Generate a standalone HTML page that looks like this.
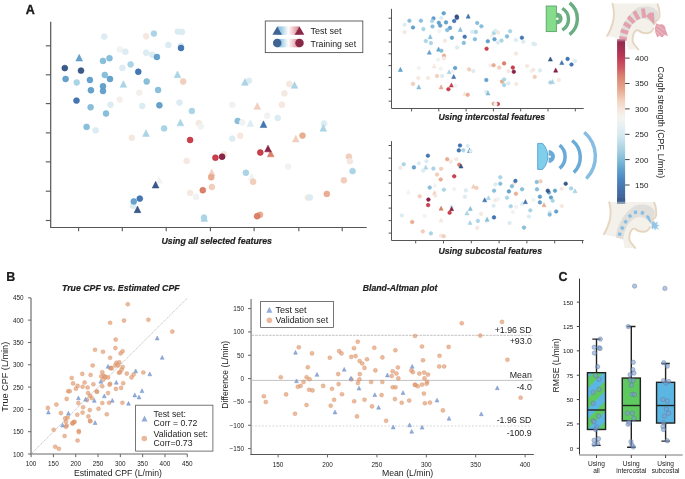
<!DOCTYPE html><html><head><meta charset="utf-8"><style>html,body{margin:0;padding:0;background:#fff;overflow:hidden;width:685px;height:479px;}svg{display:block;will-change:transform;}text{font-family:"Liberation Sans",sans-serif;}</style></head><body>
<svg width="685" height="479" viewBox="0 0 685 479">
<defs>
<linearGradient id="cbar" x1="0" y1="0" x2="0" y2="1">
<stop offset="0.0000" stop-color="#8a2a50"/>
<stop offset="0.0669" stop-color="#a8304f"/>
<stop offset="0.1155" stop-color="#c03a55"/>
<stop offset="0.1763" stop-color="#cf5a62"/>
<stop offset="0.2249" stop-color="#d98070"/>
<stop offset="0.3100" stop-color="#e8aa90"/>
<stop offset="0.3708" stop-color="#f2d0bc"/>
<stop offset="0.4316" stop-color="#f5e8e0"/>
<stop offset="0.4802" stop-color="#f5f3f0"/>
<stop offset="0.5228" stop-color="#e8f0f3"/>
<stop offset="0.5897" stop-color="#d4e8f0"/>
<stop offset="0.6748" stop-color="#a8d0e2"/>
<stop offset="0.7356" stop-color="#80bcd8"/>
<stop offset="0.7964" stop-color="#5e9fcc"/>
<stop offset="0.8571" stop-color="#4a85bf"/>
<stop offset="0.9179" stop-color="#4470a8"/>
<stop offset="1.0000" stop-color="#3d5d8e"/>
</linearGradient>
<linearGradient id="lgb" x1="0" y1="0" x2="1" y2="0"><stop offset="0" stop-color="#7fb9d8"/><stop offset="0.2" stop-color="#a3d0e5"/><stop offset="0.5" stop-color="#ffffff"/><stop offset="0.8" stop-color="#eab0b6"/><stop offset="1" stop-color="#d3808c"/></linearGradient>
<pattern id="stripe" patternUnits="userSpaceOnUse" width="14.42" height="14.42" patternTransform="rotate(45)"><rect width="14.42" height="14.42" fill="#5bb6e3"/><rect x="5.1" width="7.21" height="14.42" fill="#5dc95f"/></pattern>
<linearGradient id="cbtop" x1="0" y1="0" x2="0" y2="1"><stop offset="0" stop-color="#e3a8b6" stop-opacity="0.85"/><stop offset="1" stop-color="#e3a8b6" stop-opacity="0"/></linearGradient>
</defs>
<text x="25.8" y="13.7" font-size="12.5" text-anchor="start" font-weight="bold" font-style="normal" fill="#1a1a1a" stroke="#1a1a1a" stroke-width="0.35">A</text>
<text x="6.3" y="280.8" font-size="12.5" text-anchor="start" font-weight="bold" font-style="normal" fill="#1a1a1a" stroke="#1a1a1a" stroke-width="0.2">B</text>
<text x="558.6" y="281.1" font-size="12.5" text-anchor="start" font-weight="bold" font-style="normal" fill="#1a1a1a" stroke="#1a1a1a" stroke-width="0.3">C</text>
<g stroke="#555" stroke-width="1.1" fill="none">
<path d="M50.7 21.7V227.5H366.7" stroke-width="1.2"/>
<path d="M45.8 45.8H50.7"/>
<path d="M45.8 74.8H50.7"/>
<path d="M45.8 103.6H50.7"/>
<path d="M45.8 132.9H50.7"/>
<path d="M45.8 161.9H50.7"/>
<path d="M45.8 191.2H50.7"/>
<path d="M45.8 220.5H50.7"/>
<path d="M78.6 227.5V231.3"/>
<path d="M122.3 227.5V231.3"/>
<path d="M166.2 227.5V231.3"/>
<path d="M210.4 227.5V231.3"/>
<path d="M254.1 227.5V231.3"/>
<path d="M298.8 227.5V231.3"/>
<path d="M342.2 227.5V231.3"/>
</g>
<circle cx="104.3" cy="36.6" r="2.95" fill="#dbecf2" stroke="#d6e9f0" stroke-width="0.55"/>
<circle cx="146.2" cy="36.3" r="2.95" fill="#f5e8e0" stroke="#f4e5dc" stroke-width="0.55"/>
<circle cx="153.9" cy="33.6" r="2.95" fill="#abd5e6" stroke="#9fcfe2" stroke-width="0.55"/>
<circle cx="177.7" cy="31.6" r="2.95" fill="#dbecf2" stroke="#d6e9f0" stroke-width="0.55"/>
<circle cx="182" cy="31.9" r="2.95" fill="#dbecf2" stroke="#d6e9f0" stroke-width="0.55"/>
<circle cx="168.3" cy="45" r="2.95" fill="#dbecf2" stroke="#d6e9f0" stroke-width="0.55"/>
<circle cx="181" cy="46" r="2.95" fill="#dbecf2" stroke="#d6e9f0" stroke-width="0.55"/>
<circle cx="181" cy="48" r="2.95" fill="#4677b3" stroke="#2a63a8" stroke-width="0.55"/>
<circle cx="119.9" cy="49.5" r="2.95" fill="#f1f3f3" stroke="#eff1f1" stroke-width="0.55"/>
<circle cx="125.4" cy="51.7" r="2.95" fill="#dbecf2" stroke="#d6e9f0" stroke-width="0.55"/>
<circle cx="146.2" cy="52.7" r="2.95" fill="#dbecf2" stroke="#d6e9f0" stroke-width="0.55"/>
<circle cx="152.2" cy="54.7" r="2.95" fill="#dbecf2" stroke="#d6e9f0" stroke-width="0.55"/>
<circle cx="156.9" cy="57" r="2.95" fill="#66a2cc" stroke="#4f94c5" stroke-width="0.55"/>
<path d="M79.2 54.35L82.55 61.05L75.85 61.05Z" fill="#66a2cc" stroke="#4f94c5" stroke-width="0.45"/>
<circle cx="103" cy="60.9" r="2.95" fill="#89bfda" stroke="#78b6d5" stroke-width="0.55"/>
<circle cx="109.5" cy="58.2" r="2.95" fill="#89bfda" stroke="#78b6d5" stroke-width="0.55"/>
<circle cx="130.6" cy="64.4" r="2.95" fill="#abd5e6" stroke="#9fcfe2" stroke-width="0.55"/>
<circle cx="122.4" cy="67.9" r="2.95" fill="#dbecf2" stroke="#d6e9f0" stroke-width="0.55"/>
<circle cx="64.8" cy="68.1" r="2.95" fill="#3a5a88" stroke="#1d4176" stroke-width="0.55"/>
<circle cx="81" cy="70.6" r="2.95" fill="#3a5a88" stroke="#1d4176" stroke-width="0.55"/>
<circle cx="138.3" cy="71.8" r="2.95" fill="#4677b3" stroke="#2a63a8" stroke-width="0.55"/>
<path d="M177.5 70.95L180.85 77.65L174.15 77.65Z" fill="#abd5e6" stroke="#9fcfe2" stroke-width="0.45"/>
<circle cx="183.2" cy="81.5" r="2.95" fill="#f1cfbc" stroke="#efc8b2" stroke-width="0.55"/>
<circle cx="65.6" cy="79" r="2.95" fill="#66a2cc" stroke="#4f94c5" stroke-width="0.55"/>
<circle cx="76.7" cy="82.5" r="2.95" fill="#abd5e6" stroke="#9fcfe2" stroke-width="0.55"/>
<circle cx="89.9" cy="80" r="2.95" fill="#66a2cc" stroke="#4f94c5" stroke-width="0.55"/>
<circle cx="104.8" cy="75" r="2.95" fill="#89bfda" stroke="#78b6d5" stroke-width="0.55"/>
<circle cx="110" cy="79" r="2.95" fill="#66a2cc" stroke="#4f94c5" stroke-width="0.55"/>
<path d="M123.4 80.65L126.75 87.35L120.05 87.35Z" fill="#abd5e6" stroke="#9fcfe2" stroke-width="0.45"/>
<circle cx="146.7" cy="81.5" r="2.95" fill="#89bfda" stroke="#78b6d5" stroke-width="0.55"/>
<circle cx="90.9" cy="90.2" r="2.95" fill="#66a2cc" stroke="#4f94c5" stroke-width="0.55"/>
<circle cx="103" cy="86.2" r="2.95" fill="#66a2cc" stroke="#4f94c5" stroke-width="0.55"/>
<circle cx="103" cy="91" r="2.95" fill="#66a2cc" stroke="#4f94c5" stroke-width="0.55"/>
<circle cx="139.3" cy="92.7" r="2.95" fill="#f4efeb" stroke="#f3ede8" stroke-width="0.55"/>
<circle cx="158.1" cy="90" r="2.95" fill="#89bfda" stroke="#78b6d5" stroke-width="0.55"/>
<circle cx="76.5" cy="100.6" r="2.95" fill="#4677b3" stroke="#2a63a8" stroke-width="0.55"/>
<circle cx="90.6" cy="107.3" r="2.95" fill="#89bfda" stroke="#78b6d5" stroke-width="0.55"/>
<circle cx="110.5" cy="104.8" r="2.95" fill="#dbecf2" stroke="#d6e9f0" stroke-width="0.55"/>
<circle cx="119.7" cy="99.6" r="2.95" fill="#f4efeb" stroke="#f3ede8" stroke-width="0.55"/>
<circle cx="142.2" cy="106" r="2.95" fill="#dbecf2" stroke="#d6e9f0" stroke-width="0.55"/>
<circle cx="159.4" cy="105.3" r="2.95" fill="#66a2cc" stroke="#4f94c5" stroke-width="0.55"/>
<circle cx="179.5" cy="102.6" r="2.95" fill="#dbecf2" stroke="#d6e9f0" stroke-width="0.55"/>
<circle cx="191.9" cy="111" r="2.95" fill="#abd5e6" stroke="#9fcfe2" stroke-width="0.55"/>
<circle cx="106" cy="113.5" r="2.95" fill="#89bfda" stroke="#78b6d5" stroke-width="0.55"/>
<circle cx="86.6" cy="126.9" r="2.95" fill="#89bfda" stroke="#78b6d5" stroke-width="0.55"/>
<circle cx="95.6" cy="130.4" r="2.95" fill="#dbecf2" stroke="#d6e9f0" stroke-width="0.55"/>
<circle cx="131.8" cy="137.8" r="2.95" fill="#f5e8e0" stroke="#f4e5dc" stroke-width="0.55"/>
<path d="M146 129.75L149.35 136.45L142.65 136.45Z" fill="#abd5e6" stroke="#9fcfe2" stroke-width="0.45"/>
<circle cx="164.1" cy="128.4" r="2.95" fill="#abd5e6" stroke="#9fcfe2" stroke-width="0.55"/>
<path d="M180.4 119.15L183.75 125.85L177.05 125.85Z" fill="#abd5e6" stroke="#9fcfe2" stroke-width="0.45"/>
<circle cx="198.8" cy="123.2" r="2.95" fill="#f5e8e0" stroke="#f4e5dc" stroke-width="0.55"/>
<circle cx="200.8" cy="126.4" r="2.95" fill="#f1f3f3" stroke="#eff1f1" stroke-width="0.55"/>
<circle cx="190.1" cy="140" r="2.95" fill="#c8414f" stroke="#c02535" stroke-width="0.55"/>
<circle cx="186.6" cy="160.9" r="2.95" fill="#f5e8e0" stroke="#f4e5dc" stroke-width="0.55"/>
<path d="M159.1 176.65L162.45 183.35L155.75 183.35Z" fill="#f1f3f3" stroke="#eff1f1" stroke-width="0.45"/>
<path d="M155.6 181.35L158.95 188.05L152.25 188.05Z" fill="#3a5a88" stroke="#1d4176" stroke-width="0.45"/>
<circle cx="202.8" cy="190.2" r="2.95" fill="#dc7f6b" stroke="#d76c55" stroke-width="0.55"/>
<circle cx="190.1" cy="192.9" r="2.95" fill="#f5e8e0" stroke="#f4e5dc" stroke-width="0.55"/>
<circle cx="196.1" cy="196.9" r="2.95" fill="#f1f3f3" stroke="#eff1f1" stroke-width="0.55"/>
<circle cx="133" cy="205.8" r="2.95" fill="#dbecf2" stroke="#d6e9f0" stroke-width="0.55"/>
<circle cx="133.8" cy="201.4" r="2.95" fill="#66a2cc" stroke="#4f94c5" stroke-width="0.55"/>
<circle cx="139.8" cy="198.6" r="2.95" fill="#4677b3" stroke="#2a63a8" stroke-width="0.55"/>
<path d="M137.5 205.95L140.85 212.65L134.15 212.65Z" fill="#3a5a88" stroke="#1d4176" stroke-width="0.45"/>
<path d="M204.3 214.75L207.65 221.45L200.95 221.45Z" fill="#abd5e6" stroke="#9fcfe2" stroke-width="0.45"/>
<circle cx="204" cy="217.6" r="2.95" fill="#abd5e6" stroke="#9fcfe2" stroke-width="0.55"/>
<circle cx="248.9" cy="80.8" r="2.95" fill="#dbecf2" stroke="#d6e9f0" stroke-width="0.55"/>
<path d="M244.9 78.65L248.25 85.35L241.55 85.35Z" fill="#abd5e6" stroke="#9fcfe2" stroke-width="0.45"/>
<circle cx="289.3" cy="84" r="2.95" fill="#f5e8e0" stroke="#f4e5dc" stroke-width="0.55"/>
<path d="M294.5 81.65L297.85 88.35L291.15 88.35Z" fill="#abd5e6" stroke="#9fcfe2" stroke-width="0.45"/>
<circle cx="284.4" cy="93.4" r="2.95" fill="#f5e8e0" stroke="#f4e5dc" stroke-width="0.55"/>
<circle cx="232.3" cy="104.8" r="2.95" fill="#f1f3f3" stroke="#eff1f1" stroke-width="0.55"/>
<path d="M257.3 102.65L260.65 109.35L253.95 109.35Z" fill="#f1cfbc" stroke="#efc8b2" stroke-width="0.45"/>
<circle cx="281.9" cy="104.8" r="2.95" fill="#f5e8e0" stroke="#f4e5dc" stroke-width="0.55"/>
<circle cx="267.2" cy="115.7" r="2.95" fill="#f1f3f3" stroke="#eff1f1" stroke-width="0.55"/>
<circle cx="277.7" cy="118" r="2.95" fill="#dbecf2" stroke="#d6e9f0" stroke-width="0.55"/>
<circle cx="237.7" cy="121" r="2.95" fill="#89bfda" stroke="#78b6d5" stroke-width="0.55"/>
<circle cx="242.2" cy="122.4" r="2.95" fill="#f1f3f3" stroke="#eff1f1" stroke-width="0.55"/>
<path d="M250.4 119.85L253.75 126.55L247.05 126.55Z" fill="#dbecf2" stroke="#d6e9f0" stroke-width="0.45"/>
<path d="M263.5 120.85L266.85 127.55L260.15 127.55Z" fill="#4677b3" stroke="#2a63a8" stroke-width="0.45"/>
<circle cx="324" cy="123.5" r="2.95" fill="#dbecf2" stroke="#d6e9f0" stroke-width="0.55"/>
<path d="M323.3 124.55L326.65 131.25L319.95 131.25Z" fill="#abd5e6" stroke="#9fcfe2" stroke-width="0.45"/>
<circle cx="232.3" cy="138.6" r="2.95" fill="#dbecf2" stroke="#d6e9f0" stroke-width="0.55"/>
<circle cx="240.2" cy="135.8" r="2.95" fill="#f5e8e0" stroke="#f4e5dc" stroke-width="0.55"/>
<path d="M295.8 135.25L299.15 141.95L292.45 141.95Z" fill="#f1cfbc" stroke="#efc8b2" stroke-width="0.45"/>
<circle cx="302.5" cy="135.6" r="2.95" fill="#e9ad92" stroke="#e6a182" stroke-width="0.55"/>
<circle cx="224" cy="154.2" r="2.95" fill="#f5e8e0" stroke="#f4e5dc" stroke-width="0.55"/>
<circle cx="215.4" cy="157.7" r="2.95" fill="#c8414f" stroke="#c02535" stroke-width="0.55"/>
<circle cx="222.1" cy="156.7" r="2.95" fill="#8b2547" stroke="#7a052c" stroke-width="0.55"/>
<circle cx="260.3" cy="152.5" r="2.95" fill="#c8414f" stroke="#c02535" stroke-width="0.55"/>
<path d="M270.7 150.15L274.05 156.85L267.35 156.85Z" fill="#dc7f6b" stroke="#d76c55" stroke-width="0.45"/>
<path d="M268 145.15L271.35 151.85L264.65 151.85Z" fill="#8b2547" stroke="#7a052c" stroke-width="0.45"/>
<circle cx="288.1" cy="166.6" r="2.95" fill="#f1f3f3" stroke="#eff1f1" stroke-width="0.55"/>
<circle cx="348.9" cy="156.7" r="2.95" fill="#f1cfbc" stroke="#efc8b2" stroke-width="0.55"/>
<circle cx="349.9" cy="161.2" r="2.95" fill="#f5e8e0" stroke="#f4e5dc" stroke-width="0.55"/>
<circle cx="352.6" cy="171.1" r="2.95" fill="#abd5e6" stroke="#9fcfe2" stroke-width="0.55"/>
<circle cx="343.9" cy="180.3" r="2.95" fill="#f1cfbc" stroke="#efc8b2" stroke-width="0.55"/>
<path d="M211.7 169.25L215.05 175.95L208.35 175.95Z" fill="#f1cfbc" stroke="#efc8b2" stroke-width="0.45"/>
<circle cx="211.2" cy="177.3" r="2.95" fill="#e9ad92" stroke="#e6a182" stroke-width="0.55"/>
<circle cx="211.9" cy="187" r="2.95" fill="#f1cfbc" stroke="#efc8b2" stroke-width="0.55"/>
<circle cx="245.9" cy="172.8" r="2.95" fill="#abd5e6" stroke="#9fcfe2" stroke-width="0.55"/>
<path d="M251.6 173.15L254.95 179.85L248.25 179.85Z" fill="#f1f3f3" stroke="#eff1f1" stroke-width="0.45"/>
<circle cx="253.1" cy="181.7" r="2.95" fill="#f1cfbc" stroke="#efc8b2" stroke-width="0.55"/>
<circle cx="307.9" cy="197.6" r="2.95" fill="#f5e8e0" stroke="#f4e5dc" stroke-width="0.55"/>
<circle cx="309.9" cy="197.4" r="2.95" fill="#dbecf2" stroke="#d6e9f0" stroke-width="0.55"/>
<circle cx="326.8" cy="193.9" r="2.95" fill="#e9ad92" stroke="#e6a182" stroke-width="0.55"/>
<circle cx="260" cy="214.8" r="2.95" fill="#e9ad92" stroke="#e6a182" stroke-width="0.55"/>
<circle cx="257.1" cy="216.2" r="2.95" fill="#dc7f6b" stroke="#d76c55" stroke-width="0.55"/>
<text x="216.7" y="244.4" font-size="8.5" text-anchor="middle" font-weight="bold" font-style="italic" fill="#222" textLength="110.5" lengthAdjust="spacingAndGlyphs" stroke="#222" stroke-width="0.2">Using all selected features</text>
<rect x="265.3" y="21" width="97.5" height="31.6" fill="#fff" stroke="#555" stroke-width="0.9"/>
<rect x="277.2" y="26.4" width="22.2" height="8.4" fill="url(#lgb)"/>
<rect x="277.2" y="38.9" width="22.2" height="8.4" fill="url(#lgb)"/>
<path d="M277.2 26.4L282 34.8H272.4Z" fill="#3f6594"/>
<path d="M299.5 26.4L304.3 34.8H294.7Z" fill="#8a2848"/>
<circle cx="277.2" cy="43.1" r="4.25" fill="#3f6594"/>
<circle cx="299.5" cy="43.1" r="4.25" fill="#8a2848"/>
<text x="310.6" y="34.4" font-size="9" text-anchor="start" font-weight="normal" font-style="normal" fill="#222" >Test set</text>
<text x="310.6" y="46.6" font-size="9" text-anchor="start" font-weight="normal" font-style="normal" fill="#222" textLength="45.5" lengthAdjust="spacingAndGlyphs">Training set</text>
<g stroke="#555" stroke-width="1" fill="none">
<path d="M391.5 8.8V108.5H583.7"/>
<path d="M388.6 18.2H391.7"/>
<path d="M388.6 30.1H391.7"/>
<path d="M388.6 42H391.7"/>
<path d="M388.6 53.8H391.7"/>
<path d="M388.6 65.6H391.7"/>
<path d="M388.6 77.4H391.7"/>
<path d="M388.6 89.3H391.7"/>
<path d="M388.6 101.2H391.7"/>
<path d="M411.6 108.5V111.4"/>
<path d="M438.8 108.5V111.4"/>
<path d="M466.1 108.5V111.4"/>
<path d="M493.4 108.5V111.4"/>
<path d="M520.7 108.5V111.4"/>
<path d="M548 108.5V111.4"/>
<path d="M575.3 108.5V111.4"/>
</g>
<circle cx="443.7" cy="13.3" r="1.8" fill="#66a2cc" stroke="#4f94c5" stroke-width="0.55"/>
<circle cx="456.7" cy="16.5" r="1.8" fill="#3a5a88" stroke="#1d4176" stroke-width="0.55"/>
<circle cx="457" cy="17.8" r="1.8" fill="#3a5a88" stroke="#1d4176" stroke-width="0.55"/>
<path d="M468.2 14.05L470.25 18.15L466.15 18.15Z" fill="#4677b3" stroke="#2a63a8" stroke-width="0.45"/>
<circle cx="441.2" cy="18" r="1.8" fill="#dbecf2" stroke="#d6e9f0" stroke-width="0.55"/>
<circle cx="433.5" cy="18.4" r="1.8" fill="#66a2cc" stroke="#4f94c5" stroke-width="0.55"/>
<circle cx="432.1" cy="21" r="1.8" fill="#abd5e6" stroke="#9fcfe2" stroke-width="0.55"/>
<circle cx="409.4" cy="20.8" r="1.8" fill="#89bfda" stroke="#78b6d5" stroke-width="0.55"/>
<circle cx="420.9" cy="20.7" r="1.8" fill="#89bfda" stroke="#78b6d5" stroke-width="0.55"/>
<circle cx="404.6" cy="24.7" r="1.8" fill="#dbecf2" stroke="#d6e9f0" stroke-width="0.55"/>
<circle cx="413" cy="27.5" r="1.8" fill="#66a2cc" stroke="#4f94c5" stroke-width="0.55"/>
<circle cx="423.4" cy="29.1" r="1.8" fill="#abd5e6" stroke="#9fcfe2" stroke-width="0.55"/>
<circle cx="432.5" cy="26.5" r="1.8" fill="#89bfda" stroke="#78b6d5" stroke-width="0.55"/>
<circle cx="438.8" cy="22.8" r="1.8" fill="#66a2cc" stroke="#4f94c5" stroke-width="0.55"/>
<circle cx="440.2" cy="25.6" r="1.8" fill="#66a2cc" stroke="#4f94c5" stroke-width="0.55"/>
<circle cx="446" cy="22.4" r="1.8" fill="#66a2cc" stroke="#4f94c5" stroke-width="0.55"/>
<circle cx="454.2" cy="21" r="1.8" fill="#4677b3" stroke="#2a63a8" stroke-width="0.55"/>
<circle cx="450" cy="27.9" r="1.8" fill="#66a2cc" stroke="#4f94c5" stroke-width="0.55"/>
<circle cx="447.2" cy="30.1" r="1.8" fill="#89bfda" stroke="#78b6d5" stroke-width="0.55"/>
<circle cx="439.3" cy="31.2" r="1.8" fill="#f1f3f3" stroke="#eff1f1" stroke-width="0.55"/>
<path d="M460.3 27.35L462.35 31.45L458.25 31.45Z" fill="#89bfda" stroke="#78b6d5" stroke-width="0.45"/>
<circle cx="477.2" cy="23" r="1.8" fill="#89bfda" stroke="#78b6d5" stroke-width="0.55"/>
<circle cx="481.4" cy="26.3" r="1.8" fill="#89bfda" stroke="#78b6d5" stroke-width="0.55"/>
<circle cx="472.1" cy="31.9" r="1.8" fill="#dbecf2" stroke="#d6e9f0" stroke-width="0.55"/>
<circle cx="475.9" cy="31.9" r="1.8" fill="#abd5e6" stroke="#9fcfe2" stroke-width="0.55"/>
<circle cx="404.6" cy="32.1" r="1.8" fill="#f5e8e0" stroke="#f4e5dc" stroke-width="0.55"/>
<path d="M430.2 34.55L432.25 38.65L428.15 38.65Z" fill="#89bfda" stroke="#78b6d5" stroke-width="0.45"/>
<circle cx="425.8" cy="41" r="1.8" fill="#abd5e6" stroke="#9fcfe2" stroke-width="0.55"/>
<circle cx="430.9" cy="43.1" r="1.8" fill="#abd5e6" stroke="#9fcfe2" stroke-width="0.55"/>
<circle cx="444.9" cy="40.8" r="1.8" fill="#f5e8e0" stroke="#f4e5dc" stroke-width="0.55"/>
<circle cx="451.9" cy="37.8" r="1.8" fill="#66a2cc" stroke="#4f94c5" stroke-width="0.55"/>
<circle cx="464.7" cy="36.8" r="1.8" fill="#4677b3" stroke="#2a63a8" stroke-width="0.55"/>
<circle cx="463.8" cy="42.9" r="1.8" fill="#89bfda" stroke="#78b6d5" stroke-width="0.55"/>
<circle cx="474.9" cy="39.2" r="1.8" fill="#89bfda" stroke="#78b6d5" stroke-width="0.55"/>
<circle cx="487.8" cy="41.3" r="1.8" fill="#66a2cc" stroke="#4f94c5" stroke-width="0.55"/>
<circle cx="494.5" cy="39.2" r="1.8" fill="#66a2cc" stroke="#4f94c5" stroke-width="0.55"/>
<circle cx="486.6" cy="48.7" r="1.8" fill="#c8414f" stroke="#c02535" stroke-width="0.55"/>
<circle cx="491.9" cy="35.7" r="1.8" fill="#f1f3f3" stroke="#eff1f1" stroke-width="0.55"/>
<circle cx="494" cy="32.9" r="1.8" fill="#abd5e6" stroke="#9fcfe2" stroke-width="0.55"/>
<circle cx="495.4" cy="30.7" r="1.8" fill="#dbecf2" stroke="#d6e9f0" stroke-width="0.55"/>
<circle cx="498.2" cy="32.6" r="1.8" fill="#f5e8e0" stroke="#f4e5dc" stroke-width="0.55"/>
<circle cx="497.8" cy="42.6" r="1.8" fill="#dbecf2" stroke="#d6e9f0" stroke-width="0.55"/>
<circle cx="501.5" cy="40.6" r="1.8" fill="#abd5e6" stroke="#9fcfe2" stroke-width="0.55"/>
<circle cx="457.2" cy="47.5" r="1.8" fill="#dbecf2" stroke="#d6e9f0" stroke-width="0.55"/>
<path d="M438.6 47.05L440.65 51.15L436.55 51.15Z" fill="#66a2cc" stroke="#4f94c5" stroke-width="0.45"/>
<circle cx="441.4" cy="50.8" r="1.8" fill="#89bfda" stroke="#78b6d5" stroke-width="0.55"/>
<path d="M429.3 50.15L431.35 54.25L427.25 54.25Z" fill="#66a2cc" stroke="#4f94c5" stroke-width="0.45"/>
<circle cx="444" cy="55.7" r="1.8" fill="#e9ad92" stroke="#e6a182" stroke-width="0.55"/>
<circle cx="443.9" cy="58.3" r="1.8" fill="#f5e8e0" stroke="#f4e5dc" stroke-width="0.55"/>
<circle cx="438.1" cy="59.7" r="1.8" fill="#f1f3f3" stroke="#eff1f1" stroke-width="0.55"/>
<circle cx="418.8" cy="68" r="1.8" fill="#f1f3f3" stroke="#eff1f1" stroke-width="0.55"/>
<path d="M434.2 63.95L436.25 68.05L432.15 68.05Z" fill="#f5e8e0" stroke="#f4e5dc" stroke-width="0.45"/>
<circle cx="440.7" cy="68.7" r="1.8" fill="#f1f3f3" stroke="#eff1f1" stroke-width="0.55"/>
<circle cx="455.1" cy="68" r="1.8" fill="#66a2cc" stroke="#4f94c5" stroke-width="0.55"/>
<path d="M400.4 67.35L402.45 71.45L398.35 71.45Z" fill="#66a2cc" stroke="#4f94c5" stroke-width="0.45"/>
<circle cx="469.1" cy="69.4" r="1.8" fill="#f1cfbc" stroke="#efc8b2" stroke-width="0.55"/>
<circle cx="473.3" cy="71.1" r="1.8" fill="#dbecf2" stroke="#d6e9f0" stroke-width="0.55"/>
<circle cx="490.1" cy="65.5" r="1.8" fill="#f1f3f3" stroke="#eff1f1" stroke-width="0.55"/>
<circle cx="493.6" cy="65.2" r="1.8" fill="#e9ad92" stroke="#e6a182" stroke-width="0.55"/>
<circle cx="499.2" cy="67.6" r="1.8" fill="#f1cfbc" stroke="#efc8b2" stroke-width="0.55"/>
<circle cx="504.1" cy="63.4" r="1.8" fill="#dc7f6b" stroke="#d76c55" stroke-width="0.55"/>
<circle cx="452.6" cy="71.1" r="1.8" fill="#f1f3f3" stroke="#eff1f1" stroke-width="0.55"/>
<path d="M449.1 69.75L451.15 73.85L447.05 73.85Z" fill="#abd5e6" stroke="#9fcfe2" stroke-width="0.45"/>
<path d="M453.7 74.45L455.75 78.55L451.65 78.55Z" fill="#4677b3" stroke="#2a63a8" stroke-width="0.45"/>
<circle cx="437" cy="76" r="1.8" fill="#f1cfbc" stroke="#efc8b2" stroke-width="0.55"/>
<circle cx="442.1" cy="76" r="1.8" fill="#dbecf2" stroke="#d6e9f0" stroke-width="0.55"/>
<circle cx="418.3" cy="78.1" r="1.8" fill="#f5e8e0" stroke="#f4e5dc" stroke-width="0.55"/>
<circle cx="428.1" cy="78" r="1.8" fill="#f5e8e0" stroke="#f4e5dc" stroke-width="0.55"/>
<circle cx="413" cy="83.9" r="1.8" fill="#f1cfbc" stroke="#efc8b2" stroke-width="0.55"/>
<path d="M418.8 84.85L420.85 88.95L416.75 88.95Z" fill="#89bfda" stroke="#78b6d5" stroke-width="0.45"/>
<path d="M441.1 84.85L443.15 88.95L439.05 88.95Z" fill="#e9ad92" stroke="#e6a182" stroke-width="0.45"/>
<path d="M451.4 82.95L453.45 87.05L449.35 87.05Z" fill="#c8414f" stroke="#c02535" stroke-width="0.45"/>
<circle cx="448.4" cy="89.2" r="1.8" fill="#c8414f" stroke="#c02535" stroke-width="0.55"/>
<circle cx="455.6" cy="85.8" r="1.8" fill="#f1f3f3" stroke="#eff1f1" stroke-width="0.55"/>
<path d="M464.7 91.45L466.75 95.55L462.65 95.55Z" fill="#f5e8e0" stroke="#f4e5dc" stroke-width="0.45"/>
<circle cx="467.7" cy="94.8" r="1.8" fill="#e9ad92" stroke="#e6a182" stroke-width="0.55"/>
<circle cx="486.3" cy="80" r="1.8" fill="#66a2cc" stroke="#4f94c5" stroke-width="0.55"/>
<circle cx="486.3" cy="91.8" r="1.8" fill="#dbecf2" stroke="#d6e9f0" stroke-width="0.55"/>
<path d="M488 90.95L490.05 95.05L485.95 95.05Z" fill="#89bfda" stroke="#78b6d5" stroke-width="0.45"/>
<circle cx="502" cy="81.6" r="1.8" fill="#e9ad92" stroke="#e6a182" stroke-width="0.55"/>
<circle cx="504.1" cy="79.5" r="1.8" fill="#abd5e6" stroke="#9fcfe2" stroke-width="0.55"/>
<circle cx="504.1" cy="85.1" r="1.8" fill="#abd5e6" stroke="#9fcfe2" stroke-width="0.55"/>
<circle cx="493.6" cy="103.7" r="1.8" fill="#e9ad92" stroke="#e6a182" stroke-width="0.55"/>
<circle cx="497.9" cy="104" r="1.8" fill="#c8414f" stroke="#c02535" stroke-width="0.55"/>
<circle cx="495.6" cy="104.1" r="1.8" fill="#f1f3f3" stroke="#eff1f1" stroke-width="0.55"/>
<circle cx="510.1" cy="31.2" r="1.8" fill="#abd5e6" stroke="#9fcfe2" stroke-width="0.55"/>
<circle cx="507" cy="36.4" r="1.8" fill="#89bfda" stroke="#78b6d5" stroke-width="0.55"/>
<circle cx="515.9" cy="40" r="1.8" fill="#dbecf2" stroke="#d6e9f0" stroke-width="0.55"/>
<circle cx="521.9" cy="37.7" r="1.8" fill="#4677b3" stroke="#2a63a8" stroke-width="0.55"/>
<circle cx="523.3" cy="41.7" r="1.8" fill="#dbecf2" stroke="#d6e9f0" stroke-width="0.55"/>
<circle cx="533.3" cy="43.8" r="1.8" fill="#dbecf2" stroke="#d6e9f0" stroke-width="0.55"/>
<circle cx="535" cy="44.3" r="1.8" fill="#dbecf2" stroke="#d6e9f0" stroke-width="0.55"/>
<circle cx="515.9" cy="53.6" r="1.8" fill="#f5e8e0" stroke="#f4e5dc" stroke-width="0.55"/>
<circle cx="512.8" cy="67.6" r="1.8" fill="#c8414f" stroke="#c02535" stroke-width="0.55"/>
<circle cx="513.8" cy="71.8" r="1.8" fill="#8b2547" stroke="#7a052c" stroke-width="0.55"/>
<circle cx="508.4" cy="71.3" r="1.8" fill="#f5e8e0" stroke="#f4e5dc" stroke-width="0.55"/>
<circle cx="527.1" cy="66" r="1.8" fill="#f5e8e0" stroke="#f4e5dc" stroke-width="0.55"/>
<circle cx="531.3" cy="71.1" r="1.8" fill="#f1f3f3" stroke="#eff1f1" stroke-width="0.55"/>
<circle cx="533.4" cy="69.9" r="1.8" fill="#f5e8e0" stroke="#f4e5dc" stroke-width="0.55"/>
<circle cx="539.9" cy="70.4" r="1.8" fill="#dbecf2" stroke="#d6e9f0" stroke-width="0.55"/>
<circle cx="534.7" cy="76.9" r="1.8" fill="#f1cfbc" stroke="#efc8b2" stroke-width="0.55"/>
<path d="M550.4 56.95L552.45 61.05L548.35 61.05Z" fill="#3a5a88" stroke="#1d4176" stroke-width="0.45"/>
<path d="M561.8 60.45L563.85 64.55L559.75 64.55Z" fill="#4677b3" stroke="#2a63a8" stroke-width="0.45"/>
<circle cx="567.6" cy="58.9" r="1.8" fill="#4677b3" stroke="#2a63a8" stroke-width="0.55"/>
<circle cx="571.5" cy="64.5" r="1.8" fill="#4677b3" stroke="#2a63a8" stroke-width="0.55"/>
<circle cx="575" cy="61" r="1.8" fill="#dbecf2" stroke="#d6e9f0" stroke-width="0.55"/>
<path d="M555.7 68.05L557.75 72.15L553.65 72.15Z" fill="#8b2547" stroke="#7a052c" stroke-width="0.45"/>
<circle cx="508.4" cy="83.4" r="1.8" fill="#dbecf2" stroke="#d6e9f0" stroke-width="0.55"/>
<circle cx="516.3" cy="84.1" r="1.8" fill="#f5e8e0" stroke="#f4e5dc" stroke-width="0.55"/>
<circle cx="550.4" cy="82.5" r="1.8" fill="#abd5e6" stroke="#9fcfe2" stroke-width="0.55"/>
<path d="M552.5 79.55L554.55 83.65L550.45 83.65Z" fill="#abd5e6" stroke="#9fcfe2" stroke-width="0.45"/>
<circle cx="558.9" cy="79.9" r="1.8" fill="#f5e8e0" stroke="#f4e5dc" stroke-width="0.55"/>
<text x="491.8" y="120.4" font-size="9.4" text-anchor="middle" font-weight="bold" font-style="italic" fill="#222" textLength="106.8" lengthAdjust="spacingAndGlyphs" stroke="#222" stroke-width="0.2">Using intercostal features</text>
<g stroke="#555" stroke-width="1" fill="none">
<path d="M391.5 141.1V240.5H583.7"/>
<path d="M388.6 145.5H391.7"/>
<path d="M388.6 158.1H391.7"/>
<path d="M388.6 170.6H391.7"/>
<path d="M388.6 183.1H391.7"/>
<path d="M388.6 195.6H391.7"/>
<path d="M388.6 208.1H391.7"/>
<path d="M388.6 220.6H391.7"/>
<path d="M388.6 233.1H391.7"/>
<path d="M415.7 240.5V243.4"/>
<path d="M443.5 240.5V243.4"/>
<path d="M471.3 240.5V243.4"/>
<path d="M499.1 240.5V243.4"/>
<path d="M526.9 240.5V243.4"/>
<path d="M554.7 240.5V243.4"/>
<path d="M582.5 240.5V243.4"/>
</g>
<circle cx="460" cy="145.5" r="1.8" fill="#4677b3" stroke="#2a63a8" stroke-width="0.55"/>
<circle cx="467.7" cy="145.9" r="1.8" fill="#dbecf2" stroke="#d6e9f0" stroke-width="0.55"/>
<circle cx="458.8" cy="150.4" r="1.8" fill="#4677b3" stroke="#2a63a8" stroke-width="0.55"/>
<circle cx="463.3" cy="150.2" r="1.8" fill="#abd5e6" stroke="#9fcfe2" stroke-width="0.55"/>
<path d="M469.6 148.35L471.65 152.45L467.55 152.45Z" fill="#4677b3" stroke="#2a63a8" stroke-width="0.45"/>
<circle cx="470.5" cy="151.1" r="1.8" fill="#dbecf2" stroke="#d6e9f0" stroke-width="0.55"/>
<circle cx="427.9" cy="155.7" r="1.8" fill="#4677b3" stroke="#2a63a8" stroke-width="0.55"/>
<circle cx="447.2" cy="159.2" r="1.8" fill="#e9ad92" stroke="#e6a182" stroke-width="0.55"/>
<circle cx="450.7" cy="161.6" r="1.8" fill="#f5e8e0" stroke="#f4e5dc" stroke-width="0.55"/>
<circle cx="456.3" cy="159.2" r="1.8" fill="#f5e8e0" stroke="#f4e5dc" stroke-width="0.55"/>
<circle cx="459.3" cy="164.8" r="1.8" fill="#dc7f6b" stroke="#d76c55" stroke-width="0.55"/>
<path d="M461 163.95L463.05 168.05L458.95 168.05Z" fill="#3a5a88" stroke="#1d4176" stroke-width="0.45"/>
<circle cx="403.7" cy="164.3" r="1.8" fill="#abd5e6" stroke="#9fcfe2" stroke-width="0.55"/>
<circle cx="400.4" cy="167.8" r="1.8" fill="#f5e8e0" stroke="#f4e5dc" stroke-width="0.55"/>
<circle cx="413.9" cy="167.4" r="1.8" fill="#66a2cc" stroke="#4f94c5" stroke-width="0.55"/>
<circle cx="418.8" cy="163.4" r="1.8" fill="#dbecf2" stroke="#d6e9f0" stroke-width="0.55"/>
<circle cx="426.5" cy="161.3" r="1.8" fill="#dbecf2" stroke="#d6e9f0" stroke-width="0.55"/>
<path d="M425.8 165.05L427.85 169.15L423.75 169.15Z" fill="#abd5e6" stroke="#9fcfe2" stroke-width="0.45"/>
<circle cx="423.2" cy="170.7" r="1.8" fill="#dbecf2" stroke="#d6e9f0" stroke-width="0.55"/>
<circle cx="433.4" cy="168.6" r="1.8" fill="#abd5e6" stroke="#9fcfe2" stroke-width="0.55"/>
<circle cx="441.1" cy="168.8" r="1.8" fill="#f1cfbc" stroke="#efc8b2" stroke-width="0.55"/>
<circle cx="437" cy="174.6" r="1.8" fill="#f1cfbc" stroke="#efc8b2" stroke-width="0.55"/>
<circle cx="440.7" cy="179.5" r="1.8" fill="#e9ad92" stroke="#e6a182" stroke-width="0.55"/>
<circle cx="454.2" cy="176.3" r="1.8" fill="#c8414f" stroke="#c02535" stroke-width="0.55"/>
<circle cx="500.3" cy="177.2" r="1.8" fill="#abd5e6" stroke="#9fcfe2" stroke-width="0.55"/>
<circle cx="500.3" cy="183.7" r="1.8" fill="#89bfda" stroke="#78b6d5" stroke-width="0.55"/>
<circle cx="495.4" cy="184.4" r="1.8" fill="#dbecf2" stroke="#d6e9f0" stroke-width="0.55"/>
<circle cx="429.7" cy="187.6" r="1.8" fill="#89bfda" stroke="#78b6d5" stroke-width="0.55"/>
<path d="M434.9 182.85L436.95 186.95L432.85 186.95Z" fill="#f1f3f3" stroke="#eff1f1" stroke-width="0.45"/>
<circle cx="443.9" cy="189.7" r="1.8" fill="#abd5e6" stroke="#9fcfe2" stroke-width="0.55"/>
<circle cx="454.2" cy="189" r="1.8" fill="#f1f3f3" stroke="#eff1f1" stroke-width="0.55"/>
<circle cx="465.9" cy="190.4" r="1.8" fill="#dbecf2" stroke="#d6e9f0" stroke-width="0.55"/>
<path d="M473.5 184.25L475.55 188.35L471.45 188.35Z" fill="#f1cfbc" stroke="#efc8b2" stroke-width="0.45"/>
<circle cx="476.5" cy="187.9" r="1.8" fill="#f1cfbc" stroke="#efc8b2" stroke-width="0.55"/>
<circle cx="494.1" cy="190.7" r="1.8" fill="#89bfda" stroke="#78b6d5" stroke-width="0.55"/>
<path d="M408.3 189.85L410.35 193.95L406.25 193.95Z" fill="#f1f3f3" stroke="#eff1f1" stroke-width="0.45"/>
<circle cx="419.7" cy="196.3" r="1.8" fill="#f1cfbc" stroke="#efc8b2" stroke-width="0.55"/>
<path d="M434.6 190.75L436.65 194.85L432.55 194.85Z" fill="#f1cfbc" stroke="#efc8b2" stroke-width="0.45"/>
<circle cx="435.3" cy="195.6" r="1.8" fill="#f5e8e0" stroke="#f4e5dc" stroke-width="0.55"/>
<circle cx="464.9" cy="196.7" r="1.8" fill="#dbecf2" stroke="#d6e9f0" stroke-width="0.55"/>
<circle cx="428.4" cy="199.6" r="1.8" fill="#8b2547" stroke="#7a052c" stroke-width="0.55"/>
<circle cx="428.1" cy="205.1" r="1.8" fill="#c8414f" stroke="#c02535" stroke-width="0.55"/>
<path d="M484.7 197.75L486.75 201.85L482.65 201.85Z" fill="#4677b3" stroke="#2a63a8" stroke-width="0.45"/>
<path d="M488.4 195.65L490.45 199.75L486.35 199.75Z" fill="#abd5e6" stroke="#9fcfe2" stroke-width="0.45"/>
<circle cx="495.4" cy="200.2" r="1.8" fill="#f5e8e0" stroke="#f4e5dc" stroke-width="0.55"/>
<circle cx="498" cy="199" r="1.8" fill="#f1f3f3" stroke="#eff1f1" stroke-width="0.55"/>
<circle cx="493.6" cy="205.8" r="1.8" fill="#dbecf2" stroke="#d6e9f0" stroke-width="0.55"/>
<path d="M441.1 206.15L443.15 210.25L439.05 210.25Z" fill="#dc7f6b" stroke="#d76c55" stroke-width="0.45"/>
<circle cx="451.6" cy="206.8" r="1.8" fill="#dbecf2" stroke="#d6e9f0" stroke-width="0.55"/>
<path d="M451.6 206.55L453.65 210.65L449.55 210.65Z" fill="#8b2547" stroke="#7a052c" stroke-width="0.45"/>
<path d="M470.3 206.45L472.35 210.55L468.25 210.55Z" fill="#89bfda" stroke="#78b6d5" stroke-width="0.45"/>
<circle cx="449.6" cy="212.7" r="1.8" fill="#c8414f" stroke="#c02535" stroke-width="0.55"/>
<path d="M467 210.85L469.05 214.95L464.95 214.95Z" fill="#abd5e6" stroke="#9fcfe2" stroke-width="0.45"/>
<circle cx="401.8" cy="215.5" r="1.8" fill="#dbecf2" stroke="#d6e9f0" stroke-width="0.55"/>
<circle cx="424.6" cy="216" r="1.8" fill="#f1f3f3" stroke="#eff1f1" stroke-width="0.55"/>
<circle cx="412.2" cy="222" r="1.8" fill="#e9ad92" stroke="#e6a182" stroke-width="0.55"/>
<path d="M441.1 217.95L443.15 222.05L439.05 222.05Z" fill="#f5e8e0" stroke="#f4e5dc" stroke-width="0.45"/>
<path d="M470 220.45L472.05 224.55L467.95 224.55Z" fill="#abd5e6" stroke="#9fcfe2" stroke-width="0.45"/>
<circle cx="477.9" cy="220.9" r="1.8" fill="#abd5e6" stroke="#9fcfe2" stroke-width="0.55"/>
<circle cx="481" cy="213.9" r="1.8" fill="#f5e8e0" stroke="#f4e5dc" stroke-width="0.55"/>
<circle cx="486.6" cy="221.3" r="1.8" fill="#f1f3f3" stroke="#eff1f1" stroke-width="0.55"/>
<path d="M487.1 217.15L489.15 221.25L485.05 221.25Z" fill="#89bfda" stroke="#78b6d5" stroke-width="0.45"/>
<circle cx="494" cy="217.4" r="1.8" fill="#4677b3" stroke="#2a63a8" stroke-width="0.55"/>
<circle cx="477.2" cy="227.9" r="1.8" fill="#f5e8e0" stroke="#f4e5dc" stroke-width="0.55"/>
<circle cx="422.8" cy="231.4" r="1.8" fill="#f1cfbc" stroke="#efc8b2" stroke-width="0.55"/>
<circle cx="430.9" cy="233.4" r="1.8" fill="#abd5e6" stroke="#9fcfe2" stroke-width="0.55"/>
<circle cx="441.1" cy="235.6" r="1.8" fill="#f5e8e0" stroke="#f4e5dc" stroke-width="0.55"/>
<circle cx="443.7" cy="236.2" r="1.8" fill="#f1cfbc" stroke="#efc8b2" stroke-width="0.55"/>
<circle cx="514.2" cy="183.2" r="1.8" fill="#f5e8e0" stroke="#f4e5dc" stroke-width="0.55"/>
<circle cx="515.4" cy="180.9" r="1.8" fill="#4677b3" stroke="#2a63a8" stroke-width="0.55"/>
<circle cx="511.9" cy="186.2" r="1.8" fill="#89bfda" stroke="#78b6d5" stroke-width="0.55"/>
<circle cx="522.1" cy="189.3" r="1.8" fill="#89bfda" stroke="#78b6d5" stroke-width="0.55"/>
<circle cx="508.9" cy="191.4" r="1.8" fill="#66a2cc" stroke="#4f94c5" stroke-width="0.55"/>
<circle cx="515.9" cy="193.7" r="1.8" fill="#e9ad92" stroke="#e6a182" stroke-width="0.55"/>
<circle cx="507" cy="197.7" r="1.8" fill="#abd5e6" stroke="#9fcfe2" stroke-width="0.55"/>
<circle cx="510.7" cy="206.3" r="1.8" fill="#abd5e6" stroke="#9fcfe2" stroke-width="0.55"/>
<circle cx="516.3" cy="206.8" r="1.8" fill="#f1f3f3" stroke="#eff1f1" stroke-width="0.55"/>
<path d="M522.1 201.25L524.15 205.35L520.05 205.35Z" fill="#dbecf2" stroke="#d6e9f0" stroke-width="0.45"/>
<path d="M525.4 199.55L527.45 203.65L523.35 203.65Z" fill="#4677b3" stroke="#2a63a8" stroke-width="0.45"/>
<circle cx="536.8" cy="182" r="1.8" fill="#89bfda" stroke="#78b6d5" stroke-width="0.55"/>
<circle cx="540.5" cy="181.3" r="1.8" fill="#f1cfbc" stroke="#efc8b2" stroke-width="0.55"/>
<circle cx="537" cy="189.3" r="1.8" fill="#89bfda" stroke="#78b6d5" stroke-width="0.55"/>
<circle cx="548.9" cy="192.5" r="1.8" fill="#66a2cc" stroke="#4f94c5" stroke-width="0.55"/>
<circle cx="547.8" cy="190.7" r="1.8" fill="#3a5a88" stroke="#1d4176" stroke-width="0.55"/>
<circle cx="555" cy="190.7" r="1.8" fill="#66a2cc" stroke="#4f94c5" stroke-width="0.55"/>
<circle cx="539.9" cy="196.7" r="1.8" fill="#66a2cc" stroke="#4f94c5" stroke-width="0.55"/>
<circle cx="539.9" cy="202.4" r="1.8" fill="#66a2cc" stroke="#4f94c5" stroke-width="0.55"/>
<circle cx="551" cy="197.5" r="1.8" fill="#66a2cc" stroke="#4f94c5" stroke-width="0.55"/>
<circle cx="552.7" cy="200.7" r="1.8" fill="#abd5e6" stroke="#9fcfe2" stroke-width="0.55"/>
<path d="M544 202.65L546.05 206.75L541.95 206.75Z" fill="#e9ad92" stroke="#e6a182" stroke-width="0.45"/>
<circle cx="533.4" cy="199.8" r="1.8" fill="#f1f3f3" stroke="#eff1f1" stroke-width="0.55"/>
<circle cx="565.7" cy="183.7" r="1.8" fill="#3a5a88" stroke="#1d4176" stroke-width="0.55"/>
<circle cx="561.8" cy="188.8" r="1.8" fill="#f5e8e0" stroke="#f4e5dc" stroke-width="0.55"/>
<circle cx="571.1" cy="188.4" r="1.8" fill="#abd5e6" stroke="#9fcfe2" stroke-width="0.55"/>
<path d="M575 188.65L577.05 192.75L572.95 192.75Z" fill="#abd5e6" stroke="#9fcfe2" stroke-width="0.45"/>
<circle cx="561.8" cy="206" r="1.8" fill="#f5e8e0" stroke="#f4e5dc" stroke-width="0.55"/>
<circle cx="512.8" cy="212" r="1.8" fill="#f1f3f3" stroke="#eff1f1" stroke-width="0.55"/>
<circle cx="530.3" cy="210.4" r="1.8" fill="#abd5e6" stroke="#9fcfe2" stroke-width="0.55"/>
<circle cx="528.9" cy="216.5" r="1.8" fill="#dbecf2" stroke="#d6e9f0" stroke-width="0.55"/>
<circle cx="509.6" cy="223" r="1.8" fill="#dbecf2" stroke="#d6e9f0" stroke-width="0.55"/>
<circle cx="524" cy="227.6" r="1.8" fill="#89bfda" stroke="#78b6d5" stroke-width="0.55"/>
<circle cx="549.6" cy="212.2" r="1.8" fill="#dbecf2" stroke="#d6e9f0" stroke-width="0.55"/>
<circle cx="549.7" cy="214.6" r="1.8" fill="#89bfda" stroke="#78b6d5" stroke-width="0.55"/>
<circle cx="556.2" cy="211.5" r="1.8" fill="#66a2cc" stroke="#4f94c5" stroke-width="0.55"/>
<text x="490.2" y="253.9" font-size="9.4" text-anchor="middle" font-weight="bold" font-style="italic" fill="#222" textLength="103.6" lengthAdjust="spacingAndGlyphs" stroke="#222" stroke-width="0.2">Using subcostal features</text>
<rect x="546.2" y="6" width="10.2" height="25.6" fill="#85dc8a" stroke="#5aa46a" stroke-width="0.9"/>
<path d="M556.6 12.6A6 6 0 0 1 556.6 24.6Z" fill="#6aaf7e"/>
<circle cx="557.3" cy="18.8" r="1.3" fill="#fff"/>
<g fill="none" stroke="#68ae80" stroke-width="3.4">
<path d="M562.3 8.4A12.5 12.5 0 0 1 562.3 30"/>
<path d="M569.6 2.9A20.1 20.1 0 0 1 569.6 34.6"/>
</g>
<path d="M537.7 143.4H542.6C546 147 547.8 151.5 547.8 156.4C547.8 161.3 546 165.8 542.6 169.4H537.7Z" fill="#7fcfea" stroke="#5b9fd0" stroke-width="0.9"/>
<path d="M548.6 150.1A6.4 6.4 0 0 1 548.6 162.9Z" fill="#6aaad6"/>
<circle cx="549.7" cy="156.6" r="1.2" fill="#fff"/>
<g fill="none" stroke-width="3.5">
<path d="M559.6 145.2A15 15 0 0 1 559.6 168.4" stroke="#6aaad6"/>
<path d="M572.2 140.5A21.4 21.4 0 0 1 573.8 172.6" stroke="#6aaad6"/>
<path d="M584.3 132.2A31.9 31.9 0 0 1 586.3 178.6" stroke="#86bde0"/>
</g>
<clipPath id="tubeclip"><path d="M619.2 39Q620 30 623.5 24Q626 19 628.9 15.4Q632 11.5 637.7 7.6Q643.5 5.6 649.4 6.4Q654 7.3 657 10.8Q658.6 13 658.1 15.4Q658 19.5 655.2 21.9L653.5 25.2Q651.7 22.5 649.4 20.7Q646.5 18.6 643.5 18.4Q639.4 18.6 636.5 20.7Q633 23.2 630.5 27Q627.8 32 626.4 41Z"/></clipPath>
<g transform="translate(0 0)">
<path d="M612.5 3.5L657.6 3.5Q659.8 8 659.6 16.6Q659 19.5 655.8 21.5L653.5 25L652.8 29.5Q651.5 33 647 33.3Q642 33.6 638.4 30.3Q635 29.5 633.4 34.5Q631.5 41 634 44L638.4 49.5L628 49.5L626.4 41L619.2 38.6L607.2 36Q611 30 613.2 21.1Q615 13 612.5 3.5Z" fill="#f4f1ea"/>
<path d="M619.2 39Q620 30 623.5 24Q626 19 628.9 15.4Q632 11.5 637.7 7.6Q643.5 5.6 649.4 6.4Q654 7.3 657 10.8Q658.6 13 658.1 15.4Q658 19.5 655.2 21.9L653.5 25.2Q651.7 22.5 649.4 20.7Q646.5 18.6 643.5 18.4Q639.4 18.6 636.5 20.7Q633 23.2 630.5 27Q627.8 32 626.4 41Z" fill="#e0dfdc"/>
<g fill="none" stroke="#e6d6c1" stroke-width="1.9" stroke-linecap="round">
<path d="M612.5 3.7Q615 13 613.2 21.1Q611 30 607.2 35.9"/><path d="M657.6 4.3Q659.6 9 659.6 16.6Q659 19.5 655.8 21.5L654.2 24.5"/><path d="M653.2 28.5Q652 32.8 647 33.3Q642 33.6 638.4 30.3Q635 29.5 633.4 34.5Q631.5 41 634 44L638.4 49.5"/>
</g>
<g clip-path="url(#tubeclip)">
<rect x="620.4" y="33.7" width="4" height="9.4" fill="#e3a1ad" transform="rotate(-81 622.4 38.4)"/>
<rect x="622.5" y="26.9" width="4" height="9.4" fill="#e3a1ad" transform="rotate(-71 624.5 31.6)"/>
<rect x="625.4" y="20.6" width="4" height="9.4" fill="#e3a1ad" transform="rotate(-58 627.4 25.3)"/>
<rect x="629.3" y="15.1" width="4" height="9.4" fill="#e3a1ad" transform="rotate(-45 631.3 19.8)"/>
<rect x="634.4" y="10.6" width="4" height="9.4" fill="#e3a1ad" transform="rotate(-29 636.4 15.3)"/>
<rect x="641.6" y="8.5" width="4" height="9.4" fill="#e3a1ad" transform="rotate(-8 643.6 13.2)"/>
<path d="M645.9 16L650 12.2L651.1 13.1L652 12.2L653.2 12.8L653.8 12.2L654.8 25Z" fill="#e3a1ad"/>
</g>
<path d="M656.5 23.2L659 24.5L662.5 24.3L665 26.5L665.8 30L668 36.2L664.5 34.8L662.3 37.6L659.5 35.8L657.3 37.2L655.6 33.5L654.8 28Z" fill="#e3a1ad"/>
<path d="M657.5 25.5L664.5 30.5M656.5 28.5L663.5 34.5M656 31.5L660.5 36" stroke="#f4d6dc" stroke-width="0.6" fill="none"/>
</g>
<rect x="617.1" y="39" width="8" height="164.5" fill="url(#cbar)"/>
<rect x="617.1" y="39" width="8" height="3" fill="url(#cbtop)"/>
<g stroke="#444" stroke-width="1">
<path d="M625.1 58.1H629.6"/>
<path d="M625.1 83.5H629.6"/>
<path d="M625.1 108.9H629.6"/>
<path d="M625.1 134.3H629.6"/>
<path d="M625.1 159.6H629.6"/>
<path d="M625.1 185H629.6"/>
</g>
<text x="635" y="61" font-size="8" text-anchor="start" font-weight="normal" font-style="normal" fill="#222" >400</text>
<text x="635" y="86.4" font-size="8" text-anchor="start" font-weight="normal" font-style="normal" fill="#222" >350</text>
<text x="635" y="111.8" font-size="8" text-anchor="start" font-weight="normal" font-style="normal" fill="#222" >300</text>
<text x="635" y="137.2" font-size="8" text-anchor="start" font-weight="normal" font-style="normal" fill="#222" >250</text>
<text x="635" y="162.5" font-size="8" text-anchor="start" font-weight="normal" font-style="normal" fill="#222" >200</text>
<text x="635" y="187.9" font-size="8" text-anchor="start" font-weight="normal" font-style="normal" fill="#222" >150</text>
<text transform="translate(658.1 122.4) rotate(90)" font-size="8.8" text-anchor="middle" fill="#222" textLength="111.6" lengthAdjust="spacingAndGlyphs">Cough strength (CPF, L/min)</text>
<g transform="translate(-3.3 198.4)">
<path d="M612.5 3.5L657.6 3.5Q659.8 8 659.6 16.6Q659 19.5 655.8 21.5L653.5 25L652.8 29.5Q651.5 33 647 33.3Q642 33.6 638.4 30.3Q635 29.5 633.4 34.5Q631.5 41 634 44L638.4 49.5L628 49.5L626.4 41L619.2 38.6L607.2 36Q611 30 613.2 21.1Q615 13 612.5 3.5Z" fill="#f4f1ea"/>
<path d="M619.2 39Q620 30 623.5 24Q626 19 628.9 15.4Q632 11.5 637.7 7.6Q643.5 5.6 649.4 6.4Q654 7.3 657 10.8Q658.6 13 658.1 15.4Q658 19.5 655.2 21.9L653.5 25.2Q651.7 22.5 649.4 20.7Q646.5 18.6 643.5 18.4Q639.4 18.6 636.5 20.7Q633 23.2 630.5 27Q627.8 32 626.4 41Z" fill="#e0dfdc"/>
<g fill="none" stroke="#e6d6c1" stroke-width="1.9" stroke-linecap="round">
<path d="M612.5 3.7Q615 13 613.2 21.1Q611 30 607.2 35.9"/><path d="M657.6 4.3Q659.6 9 659.6 16.6Q659 19.5 655.8 21.5L654.2 24.5"/><path d="M653.2 28.5Q652 32.8 647 33.3Q642 33.6 638.4 30.3Q635 29.5 633.4 34.5Q631.5 41 634 44L638.4 49.5"/>
</g>
<rect x="621.4" y="34.1" width="3.2" height="3.4" fill="#86bfe3" transform="rotate(-78 623 35.8)"/>
<rect x="624" y="27.9" width="3.2" height="3.4" fill="#86bfe3" transform="rotate(-65 625.6 29.6)"/>
<rect x="627.3" y="21.7" width="3.2" height="3.4" fill="#86bfe3" transform="rotate(-52 628.9 23.4)"/>
<rect x="631.7" y="15.9" width="3.2" height="3.4" fill="#86bfe3" transform="rotate(-35 633.3 17.6)"/>
<rect x="637.2" y="12.2" width="3.2" height="3.4" fill="#86bfe3" transform="rotate(-10 638.8 13.9)"/>
<rect x="644.1" y="12.8" width="3.2" height="3.4" fill="#86bfe3" transform="rotate(20 645.7 14.5)"/>
<path d="M649.2 18.2L650.6 16.4L651.3 17.6L652.3 16.8L654.4 23.4L653.4 24.4Z" fill="#86bfe3"/>
<path d="M654.8 24L657.5 22.3L658.2 24.5L661.5 23.3L660 26L663.2 27.2L660.2 28.2L662.5 31.6L659 29.6L658.8 32.2L656.8 29.6L655 31Z" fill="#94c6e7"/>
</g>
<rect x="617.1" y="198" width="8" height="5.5" fill="#3d5d8e"/>
<rect x="617.1" y="201.8" width="8" height="1.7" fill="#8a9ab5"/>
<text x="120.8" y="291.3" font-size="8.6" text-anchor="middle" font-weight="bold" font-style="italic" fill="#222" textLength="117.7" lengthAdjust="spacingAndGlyphs" stroke="#222" stroke-width="0.2">True CPF vs. Estimated CPF</text>
<g stroke="#666" stroke-width="1" fill="none">
<path d="M31 298V454H187.4" stroke="#9a9a9a" stroke-width="1.7"/>
<path d="M28 454H31.1"/>
<path d="M31.1 454V457.2"/>
<path d="M28 431.69H31.1"/>
<path d="M53.41 454V457.2"/>
<path d="M28 409.38H31.1"/>
<path d="M75.72 454V457.2"/>
<path d="M28 387.07H31.1"/>
<path d="M98.03 454V457.2"/>
<path d="M28 364.76H31.1"/>
<path d="M120.34 454V457.2"/>
<path d="M28 342.45H31.1"/>
<path d="M142.65 454V457.2"/>
<path d="M28 320.14H31.1"/>
<path d="M164.96 454V457.2"/>
<path d="M28 297.83H31.1"/>
<path d="M187.27 454V457.2"/>
</g>
<text x="23.6" y="456.6" font-size="6.4" text-anchor="end" font-weight="normal" font-style="normal" fill="#222" >100</text>
<text x="31.1" y="465.9" font-size="6.4" text-anchor="middle" font-weight="normal" font-style="normal" fill="#222" >100</text>
<text x="23.6" y="434.29" font-size="6.4" text-anchor="end" font-weight="normal" font-style="normal" fill="#222" >150</text>
<text x="53.41" y="465.9" font-size="6.4" text-anchor="middle" font-weight="normal" font-style="normal" fill="#222" >150</text>
<text x="23.6" y="411.98" font-size="6.4" text-anchor="end" font-weight="normal" font-style="normal" fill="#222" >200</text>
<text x="75.72" y="465.9" font-size="6.4" text-anchor="middle" font-weight="normal" font-style="normal" fill="#222" >200</text>
<text x="23.6" y="389.67" font-size="6.4" text-anchor="end" font-weight="normal" font-style="normal" fill="#222" >250</text>
<text x="98.03" y="465.9" font-size="6.4" text-anchor="middle" font-weight="normal" font-style="normal" fill="#222" >250</text>
<text x="23.6" y="367.36" font-size="6.4" text-anchor="end" font-weight="normal" font-style="normal" fill="#222" >300</text>
<text x="120.34" y="465.9" font-size="6.4" text-anchor="middle" font-weight="normal" font-style="normal" fill="#222" >300</text>
<text x="23.6" y="345.05" font-size="6.4" text-anchor="end" font-weight="normal" font-style="normal" fill="#222" >350</text>
<text x="142.65" y="465.9" font-size="6.4" text-anchor="middle" font-weight="normal" font-style="normal" fill="#222" >350</text>
<text x="23.6" y="322.74" font-size="6.4" text-anchor="end" font-weight="normal" font-style="normal" fill="#222" >400</text>
<text x="164.96" y="465.9" font-size="6.4" text-anchor="middle" font-weight="normal" font-style="normal" fill="#222" >400</text>
<text x="23.6" y="300.43" font-size="6.4" text-anchor="end" font-weight="normal" font-style="normal" fill="#222" >450</text>
<text x="187.27" y="465.9" font-size="6.4" text-anchor="middle" font-weight="normal" font-style="normal" fill="#222" >450</text>
<path d="M32.2 452.9L187.4 298" stroke="#999" stroke-width="0.6" stroke-dasharray="1.3 0.8" fill="none"/>
<circle cx="127.8" cy="304.2" r="2.05" fill="#e09b6f" fill-opacity="0.68" stroke="#d27e52" stroke-opacity="0.55" stroke-width="0.5"/>
<circle cx="110.1" cy="322.8" r="2.05" fill="#e09b6f" fill-opacity="0.68" stroke="#d27e52" stroke-opacity="0.55" stroke-width="0.5"/>
<circle cx="124" cy="320.6" r="2.05" fill="#e09b6f" fill-opacity="0.68" stroke="#d27e52" stroke-opacity="0.55" stroke-width="0.5"/>
<circle cx="148.4" cy="319.8" r="2.05" fill="#e09b6f" fill-opacity="0.68" stroke="#d27e52" stroke-opacity="0.55" stroke-width="0.5"/>
<circle cx="172.3" cy="331.6" r="2.05" fill="#e09b6f" fill-opacity="0.68" stroke="#d27e52" stroke-opacity="0.55" stroke-width="0.5"/>
<circle cx="115.7" cy="339.6" r="2.05" fill="#e09b6f" fill-opacity="0.68" stroke="#d27e52" stroke-opacity="0.55" stroke-width="0.5"/>
<circle cx="95" cy="349.8" r="2.05" fill="#e09b6f" fill-opacity="0.68" stroke="#d27e52" stroke-opacity="0.55" stroke-width="0.5"/>
<circle cx="103" cy="351.8" r="2.05" fill="#e09b6f" fill-opacity="0.68" stroke="#d27e52" stroke-opacity="0.55" stroke-width="0.5"/>
<circle cx="115.4" cy="348.1" r="2.05" fill="#e09b6f" fill-opacity="0.68" stroke="#d27e52" stroke-opacity="0.55" stroke-width="0.5"/>
<circle cx="120.6" cy="353.4" r="2.05" fill="#e09b6f" fill-opacity="0.68" stroke="#d27e52" stroke-opacity="0.55" stroke-width="0.5"/>
<circle cx="122.6" cy="351.3" r="2.05" fill="#e09b6f" fill-opacity="0.68" stroke="#d27e52" stroke-opacity="0.55" stroke-width="0.5"/>
<circle cx="110.1" cy="357.8" r="2.05" fill="#e09b6f" fill-opacity="0.68" stroke="#d27e52" stroke-opacity="0.55" stroke-width="0.5"/>
<circle cx="92.7" cy="365.5" r="2.05" fill="#e09b6f" fill-opacity="0.68" stroke="#d27e52" stroke-opacity="0.55" stroke-width="0.5"/>
<circle cx="111" cy="368" r="2.05" fill="#e09b6f" fill-opacity="0.68" stroke="#d27e52" stroke-opacity="0.55" stroke-width="0.5"/>
<circle cx="116.4" cy="362.8" r="2.05" fill="#e09b6f" fill-opacity="0.68" stroke="#d27e52" stroke-opacity="0.55" stroke-width="0.5"/>
<circle cx="119.3" cy="362.4" r="2.05" fill="#e09b6f" fill-opacity="0.68" stroke="#d27e52" stroke-opacity="0.55" stroke-width="0.5"/>
<circle cx="115.3" cy="365.4" r="2.05" fill="#e09b6f" fill-opacity="0.68" stroke="#d27e52" stroke-opacity="0.55" stroke-width="0.5"/>
<circle cx="118" cy="365.4" r="2.05" fill="#e09b6f" fill-opacity="0.68" stroke="#d27e52" stroke-opacity="0.55" stroke-width="0.5"/>
<circle cx="110.1" cy="368" r="2.05" fill="#e09b6f" fill-opacity="0.68" stroke="#d27e52" stroke-opacity="0.55" stroke-width="0.5"/>
<circle cx="111.7" cy="368.4" r="2.05" fill="#e09b6f" fill-opacity="0.68" stroke="#d27e52" stroke-opacity="0.55" stroke-width="0.5"/>
<circle cx="122.7" cy="367" r="2.05" fill="#e09b6f" fill-opacity="0.68" stroke="#d27e52" stroke-opacity="0.55" stroke-width="0.5"/>
<circle cx="121.6" cy="369.6" r="2.05" fill="#e09b6f" fill-opacity="0.68" stroke="#d27e52" stroke-opacity="0.55" stroke-width="0.5"/>
<circle cx="119" cy="372.7" r="2.05" fill="#e09b6f" fill-opacity="0.68" stroke="#d27e52" stroke-opacity="0.55" stroke-width="0.5"/>
<circle cx="120" cy="372.2" r="2.05" fill="#e09b6f" fill-opacity="0.68" stroke="#d27e52" stroke-opacity="0.55" stroke-width="0.5"/>
<circle cx="126.8" cy="373.6" r="2.05" fill="#e09b6f" fill-opacity="0.68" stroke="#d27e52" stroke-opacity="0.55" stroke-width="0.5"/>
<circle cx="133.6" cy="374.6" r="2.05" fill="#e09b6f" fill-opacity="0.68" stroke="#d27e52" stroke-opacity="0.55" stroke-width="0.5"/>
<circle cx="131.5" cy="377.4" r="2.05" fill="#e09b6f" fill-opacity="0.68" stroke="#d27e52" stroke-opacity="0.55" stroke-width="0.5"/>
<circle cx="143.3" cy="372.5" r="2.05" fill="#e09b6f" fill-opacity="0.68" stroke="#d27e52" stroke-opacity="0.55" stroke-width="0.5"/>
<circle cx="102.3" cy="372.2" r="2.05" fill="#e09b6f" fill-opacity="0.68" stroke="#d27e52" stroke-opacity="0.55" stroke-width="0.5"/>
<circle cx="101.3" cy="376.4" r="2.05" fill="#e09b6f" fill-opacity="0.68" stroke="#d27e52" stroke-opacity="0.55" stroke-width="0.5"/>
<circle cx="103.9" cy="375.9" r="2.05" fill="#e09b6f" fill-opacity="0.68" stroke="#d27e52" stroke-opacity="0.55" stroke-width="0.5"/>
<circle cx="105.4" cy="376.9" r="2.05" fill="#e09b6f" fill-opacity="0.68" stroke="#d27e52" stroke-opacity="0.55" stroke-width="0.5"/>
<circle cx="103.3" cy="379.5" r="2.05" fill="#e09b6f" fill-opacity="0.68" stroke="#d27e52" stroke-opacity="0.55" stroke-width="0.5"/>
<circle cx="108" cy="377.4" r="2.05" fill="#e09b6f" fill-opacity="0.68" stroke="#d27e52" stroke-opacity="0.55" stroke-width="0.5"/>
<circle cx="110.1" cy="383.7" r="2.05" fill="#e09b6f" fill-opacity="0.68" stroke="#d27e52" stroke-opacity="0.55" stroke-width="0.5"/>
<circle cx="109.6" cy="384.7" r="2.05" fill="#e09b6f" fill-opacity="0.68" stroke="#d27e52" stroke-opacity="0.55" stroke-width="0.5"/>
<circle cx="102.3" cy="386.3" r="2.05" fill="#e09b6f" fill-opacity="0.68" stroke="#d27e52" stroke-opacity="0.55" stroke-width="0.5"/>
<circle cx="123.2" cy="383.2" r="2.05" fill="#e09b6f" fill-opacity="0.68" stroke="#d27e52" stroke-opacity="0.55" stroke-width="0.5"/>
<circle cx="121.1" cy="387.9" r="2.05" fill="#e09b6f" fill-opacity="0.68" stroke="#d27e52" stroke-opacity="0.55" stroke-width="0.5"/>
<circle cx="115.9" cy="388.9" r="2.05" fill="#e09b6f" fill-opacity="0.68" stroke="#d27e52" stroke-opacity="0.55" stroke-width="0.5"/>
<circle cx="96.6" cy="391.5" r="2.05" fill="#e09b6f" fill-opacity="0.68" stroke="#d27e52" stroke-opacity="0.55" stroke-width="0.5"/>
<circle cx="108" cy="393.1" r="2.05" fill="#e09b6f" fill-opacity="0.68" stroke="#d27e52" stroke-opacity="0.55" stroke-width="0.5"/>
<circle cx="102.3" cy="403" r="2.05" fill="#e09b6f" fill-opacity="0.68" stroke="#d27e52" stroke-opacity="0.55" stroke-width="0.5"/>
<circle cx="109.1" cy="402.8" r="2.05" fill="#e09b6f" fill-opacity="0.68" stroke="#d27e52" stroke-opacity="0.55" stroke-width="0.5"/>
<circle cx="122.4" cy="402.8" r="2.05" fill="#e09b6f" fill-opacity="0.68" stroke="#d27e52" stroke-opacity="0.55" stroke-width="0.5"/>
<circle cx="82.3" cy="373.9" r="2.05" fill="#e09b6f" fill-opacity="0.68" stroke="#d27e52" stroke-opacity="0.55" stroke-width="0.5"/>
<circle cx="90.6" cy="375" r="2.05" fill="#e09b6f" fill-opacity="0.68" stroke="#d27e52" stroke-opacity="0.55" stroke-width="0.5"/>
<circle cx="71.7" cy="378" r="2.05" fill="#e09b6f" fill-opacity="0.68" stroke="#d27e52" stroke-opacity="0.55" stroke-width="0.5"/>
<circle cx="73.1" cy="383.4" r="2.05" fill="#e09b6f" fill-opacity="0.68" stroke="#d27e52" stroke-opacity="0.55" stroke-width="0.5"/>
<circle cx="84.6" cy="382.5" r="2.05" fill="#e09b6f" fill-opacity="0.68" stroke="#d27e52" stroke-opacity="0.55" stroke-width="0.5"/>
<circle cx="93.4" cy="384.2" r="2.05" fill="#e09b6f" fill-opacity="0.68" stroke="#d27e52" stroke-opacity="0.55" stroke-width="0.5"/>
<circle cx="77.6" cy="385.9" r="2.05" fill="#e09b6f" fill-opacity="0.68" stroke="#d27e52" stroke-opacity="0.55" stroke-width="0.5"/>
<circle cx="82.6" cy="386.7" r="2.05" fill="#e09b6f" fill-opacity="0.68" stroke="#d27e52" stroke-opacity="0.55" stroke-width="0.5"/>
<circle cx="87.6" cy="387.5" r="2.05" fill="#e09b6f" fill-opacity="0.68" stroke="#d27e52" stroke-opacity="0.55" stroke-width="0.5"/>
<circle cx="75.9" cy="388.7" r="2.05" fill="#e09b6f" fill-opacity="0.68" stroke="#d27e52" stroke-opacity="0.55" stroke-width="0.5"/>
<circle cx="68.1" cy="391.2" r="2.05" fill="#e09b6f" fill-opacity="0.68" stroke="#d27e52" stroke-opacity="0.55" stroke-width="0.5"/>
<circle cx="69.7" cy="391.2" r="2.05" fill="#e09b6f" fill-opacity="0.68" stroke="#d27e52" stroke-opacity="0.55" stroke-width="0.5"/>
<circle cx="88.1" cy="393.1" r="2.05" fill="#e09b6f" fill-opacity="0.68" stroke="#d27e52" stroke-opacity="0.55" stroke-width="0.5"/>
<circle cx="97.1" cy="391.7" r="2.05" fill="#e09b6f" fill-opacity="0.68" stroke="#d27e52" stroke-opacity="0.55" stroke-width="0.5"/>
<circle cx="90.1" cy="395.9" r="2.05" fill="#e09b6f" fill-opacity="0.68" stroke="#d27e52" stroke-opacity="0.55" stroke-width="0.5"/>
<circle cx="91.8" cy="398.1" r="2.05" fill="#e09b6f" fill-opacity="0.68" stroke="#d27e52" stroke-opacity="0.55" stroke-width="0.5"/>
<circle cx="87.1" cy="400.1" r="2.05" fill="#e09b6f" fill-opacity="0.68" stroke="#d27e52" stroke-opacity="0.55" stroke-width="0.5"/>
<circle cx="66.7" cy="398.9" r="2.05" fill="#e09b6f" fill-opacity="0.68" stroke="#d27e52" stroke-opacity="0.55" stroke-width="0.5"/>
<circle cx="78.4" cy="403.1" r="2.05" fill="#e09b6f" fill-opacity="0.68" stroke="#d27e52" stroke-opacity="0.55" stroke-width="0.5"/>
<circle cx="56.4" cy="404.6" r="2.05" fill="#e09b6f" fill-opacity="0.68" stroke="#d27e52" stroke-opacity="0.55" stroke-width="0.5"/>
<circle cx="47.9" cy="407.9" r="2.05" fill="#e09b6f" fill-opacity="0.68" stroke="#d27e52" stroke-opacity="0.55" stroke-width="0.5"/>
<circle cx="83.1" cy="407.2" r="2.05" fill="#e09b6f" fill-opacity="0.68" stroke="#d27e52" stroke-opacity="0.55" stroke-width="0.5"/>
<circle cx="89.8" cy="410.1" r="2.05" fill="#e09b6f" fill-opacity="0.68" stroke="#d27e52" stroke-opacity="0.55" stroke-width="0.5"/>
<circle cx="98.5" cy="408.7" r="2.05" fill="#e09b6f" fill-opacity="0.68" stroke="#d27e52" stroke-opacity="0.55" stroke-width="0.5"/>
<circle cx="60.9" cy="413.1" r="2.05" fill="#e09b6f" fill-opacity="0.68" stroke="#d27e52" stroke-opacity="0.55" stroke-width="0.5"/>
<circle cx="77.3" cy="414.8" r="2.05" fill="#e09b6f" fill-opacity="0.68" stroke="#d27e52" stroke-opacity="0.55" stroke-width="0.5"/>
<circle cx="82.6" cy="412.6" r="2.05" fill="#e09b6f" fill-opacity="0.68" stroke="#d27e52" stroke-opacity="0.55" stroke-width="0.5"/>
<circle cx="106.8" cy="414.3" r="2.05" fill="#e09b6f" fill-opacity="0.68" stroke="#d27e52" stroke-opacity="0.55" stroke-width="0.5"/>
<circle cx="88.4" cy="416.4" r="2.05" fill="#e09b6f" fill-opacity="0.68" stroke="#d27e52" stroke-opacity="0.55" stroke-width="0.5"/>
<circle cx="65.1" cy="418.4" r="2.05" fill="#e09b6f" fill-opacity="0.68" stroke="#d27e52" stroke-opacity="0.55" stroke-width="0.5"/>
<circle cx="67.6" cy="417.6" r="2.05" fill="#e09b6f" fill-opacity="0.68" stroke="#d27e52" stroke-opacity="0.55" stroke-width="0.5"/>
<circle cx="65.9" cy="421.8" r="2.05" fill="#e09b6f" fill-opacity="0.68" stroke="#d27e52" stroke-opacity="0.55" stroke-width="0.5"/>
<circle cx="66.7" cy="425.6" r="2.05" fill="#e09b6f" fill-opacity="0.68" stroke="#d27e52" stroke-opacity="0.55" stroke-width="0.5"/>
<circle cx="65.9" cy="426.8" r="2.05" fill="#e09b6f" fill-opacity="0.68" stroke="#d27e52" stroke-opacity="0.55" stroke-width="0.5"/>
<circle cx="73.9" cy="422.1" r="2.05" fill="#e09b6f" fill-opacity="0.68" stroke="#d27e52" stroke-opacity="0.55" stroke-width="0.5"/>
<circle cx="72.6" cy="423.4" r="2.05" fill="#e09b6f" fill-opacity="0.68" stroke="#d27e52" stroke-opacity="0.55" stroke-width="0.5"/>
<circle cx="90.1" cy="420.9" r="2.05" fill="#e09b6f" fill-opacity="0.68" stroke="#d27e52" stroke-opacity="0.55" stroke-width="0.5"/>
<circle cx="53.7" cy="429.8" r="2.05" fill="#e09b6f" fill-opacity="0.68" stroke="#d27e52" stroke-opacity="0.55" stroke-width="0.5"/>
<circle cx="78.8" cy="431" r="2.05" fill="#e09b6f" fill-opacity="0.68" stroke="#d27e52" stroke-opacity="0.55" stroke-width="0.5"/>
<circle cx="78.8" cy="432.1" r="2.05" fill="#e09b6f" fill-opacity="0.68" stroke="#d27e52" stroke-opacity="0.55" stroke-width="0.5"/>
<circle cx="64.6" cy="436" r="2.05" fill="#e09b6f" fill-opacity="0.68" stroke="#d27e52" stroke-opacity="0.55" stroke-width="0.5"/>
<circle cx="77.6" cy="440.5" r="2.05" fill="#e09b6f" fill-opacity="0.68" stroke="#d27e52" stroke-opacity="0.55" stroke-width="0.5"/>
<circle cx="74.6" cy="421.8" r="2.05" fill="#e09b6f" fill-opacity="0.68" stroke="#d27e52" stroke-opacity="0.55" stroke-width="0.5"/>
<circle cx="72.4" cy="423.2" r="2.05" fill="#e09b6f" fill-opacity="0.68" stroke="#d27e52" stroke-opacity="0.55" stroke-width="0.5"/>
<circle cx="90.3" cy="421.2" r="2.05" fill="#e09b6f" fill-opacity="0.68" stroke="#d27e52" stroke-opacity="0.55" stroke-width="0.5"/>
<circle cx="55.2" cy="446.7" r="2.05" fill="#e09b6f" fill-opacity="0.68" stroke="#d27e52" stroke-opacity="0.55" stroke-width="0.5"/>
<circle cx="58.9" cy="448.8" r="2.05" fill="#e09b6f" fill-opacity="0.68" stroke="#d27e52" stroke-opacity="0.55" stroke-width="0.5"/>
<path d="M157.2 336.1L159.1 339.9L155.3 339.9Z" fill="#92acd9" stroke="#7492c9" stroke-width="0.5"/>
<path d="M162.2 355.5L164.1 359.3L160.3 359.3Z" fill="#92acd9" stroke="#7492c9" stroke-width="0.5"/>
<path d="M108 364.4L109.9 368.2L106.1 368.2Z" fill="#92acd9" stroke="#7492c9" stroke-width="0.5"/>
<path d="M135.7 369L137.6 372.8L133.8 372.8Z" fill="#92acd9" stroke="#7492c9" stroke-width="0.5"/>
<path d="M149.8 372L151.7 375.8L147.9 375.8Z" fill="#92acd9" stroke="#7492c9" stroke-width="0.5"/>
<path d="M100.8 379.4L102.7 383.2L98.9 383.2Z" fill="#92acd9" stroke="#7492c9" stroke-width="0.5"/>
<path d="M116.3 380.4L118.2 384.2L114.4 384.2Z" fill="#92acd9" stroke="#7492c9" stroke-width="0.5"/>
<path d="M78.4 396L80.3 399.8L76.5 399.8Z" fill="#92acd9" stroke="#7492c9" stroke-width="0.5"/>
<path d="M85.6 397.3L87.5 401.1L83.7 401.1Z" fill="#92acd9" stroke="#7492c9" stroke-width="0.5"/>
<path d="M94.3 398.5L96.2 402.3L92.4 402.3Z" fill="#92acd9" stroke="#7492c9" stroke-width="0.5"/>
<path d="M104.3 394L106.2 397.8L102.4 397.8Z" fill="#92acd9" stroke="#7492c9" stroke-width="0.5"/>
<path d="M112.3 398.5L114.2 402.3L110.4 402.3Z" fill="#92acd9" stroke="#7492c9" stroke-width="0.5"/>
<path d="M48.4 410.2L50.3 414L46.5 414Z" fill="#92acd9" stroke="#7492c9" stroke-width="0.5"/>
<path d="M68.4 411.3L70.3 415.1L66.5 415.1Z" fill="#92acd9" stroke="#7492c9" stroke-width="0.5"/>
<path d="M62.6 423.1L64.5 426.9L60.7 426.9Z" fill="#92acd9" stroke="#7492c9" stroke-width="0.5"/>
<path d="M95.1 420.7L97 424.5L93.2 424.5Z" fill="#92acd9" stroke="#7492c9" stroke-width="0.5"/>
<path d="M142 388.8L143.9 392.6L140.1 392.6Z" fill="#92acd9" stroke="#7492c9" stroke-width="0.5"/>
<path d="M134.8 393.1L136.7 396.9L132.9 396.9Z" fill="#92acd9" stroke="#7492c9" stroke-width="0.5"/>
<path d="M139 395.1L140.9 398.9L137.1 398.9Z" fill="#92acd9" stroke="#7492c9" stroke-width="0.5"/>
<path d="M128.5 401.4L130.4 405.2L126.6 405.2Z" fill="#92acd9" stroke="#7492c9" stroke-width="0.5"/>
<text x="117.9" y="475.7" font-size="8.7" text-anchor="middle" font-weight="normal" font-style="normal" fill="#222" textLength="88" lengthAdjust="spacingAndGlyphs">Estimated CPF (L/min)</text>
<text transform="translate(8.4 376.8) rotate(-90)" font-size="8.7" text-anchor="middle" fill="#222" textLength="70" lengthAdjust="spacingAndGlyphs">True CPF (L/min)</text>
<rect x="135.6" y="405.2" width="77.3" height="45.9" fill="#fff" stroke="#555" stroke-width="0.8"/>
<path d="M144.5 415.4L147.5 421.4L141.5 421.4Z" fill="#93acd9"/>
<circle cx="144.3" cy="438.5" r="2.8" fill="#eab89c"/>
<text x="153.6" y="416.8" font-size="8.7" text-anchor="start" font-weight="normal" font-style="normal" fill="#222" >Test set:</text>
<text x="153.6" y="425.9" font-size="8.7" text-anchor="start" font-weight="normal" font-style="normal" fill="#222" >Corr = 0.72</text>
<text x="153.6" y="437.3" font-size="8.7" text-anchor="start" font-weight="normal" font-style="normal" fill="#222" textLength="54.3" lengthAdjust="spacingAndGlyphs">Validation set:</text>
<text x="153.6" y="446" font-size="8.7" text-anchor="start" font-weight="normal" font-style="normal" fill="#222" >Corr=0.73</text>
<text x="400.1" y="291.2" font-size="8.6" text-anchor="middle" font-weight="bold" font-style="italic" fill="#222" textLength="74.5" lengthAdjust="spacingAndGlyphs" stroke="#222" stroke-width="0.2">Bland-Altman plot</text>
<g stroke="#666" stroke-width="1" fill="none">
<path d="M251.1 299V454.5" stroke="#9a9a9a" stroke-width="1.6"/><path d="M250.3 454.5H533.8" stroke="#555"/>
<path d="M248 448.61H251"/>
<path d="M248 425.27H251"/>
<path d="M248 401.94H251"/>
<path d="M248 378.6H251"/>
<path d="M248 355.27H251"/>
<path d="M248 331.93H251"/>
<path d="M248 308.6H251"/>
<path d="M278.1 454.5V457.4"/>
<path d="M327.5 454.5V457.4"/>
<path d="M376.9 454.5V457.4"/>
<path d="M426.3 454.5V457.4"/>
<path d="M475.7 454.5V457.4"/>
<path d="M525.1 454.5V457.4"/>
</g>
<text x="244" y="451.11" font-size="6.4" text-anchor="end" font-weight="normal" font-style="normal" fill="#222" >&#8722;150</text>
<text x="244" y="427.77" font-size="6.4" text-anchor="end" font-weight="normal" font-style="normal" fill="#222" >&#8722;100</text>
<text x="244" y="404.44" font-size="6.4" text-anchor="end" font-weight="normal" font-style="normal" fill="#222" >&#8722;50</text>
<text x="244" y="381.1" font-size="6.4" text-anchor="end" font-weight="normal" font-style="normal" fill="#222" >0</text>
<text x="244" y="357.77" font-size="6.4" text-anchor="end" font-weight="normal" font-style="normal" fill="#222" >50</text>
<text x="244" y="334.43" font-size="6.4" text-anchor="end" font-weight="normal" font-style="normal" fill="#222" >100</text>
<text x="244" y="311.1" font-size="6.4" text-anchor="end" font-weight="normal" font-style="normal" fill="#222" >150</text>
<text x="278.1" y="466.8" font-size="6.4" text-anchor="middle" font-weight="normal" font-style="normal" fill="#222" >150</text>
<text x="327.5" y="466.8" font-size="6.4" text-anchor="middle" font-weight="normal" font-style="normal" fill="#222" >200</text>
<text x="376.9" y="466.8" font-size="6.4" text-anchor="middle" font-weight="normal" font-style="normal" fill="#222" >250</text>
<text x="426.3" y="466.8" font-size="6.4" text-anchor="middle" font-weight="normal" font-style="normal" fill="#222" >300</text>
<text x="475.7" y="466.8" font-size="6.4" text-anchor="middle" font-weight="normal" font-style="normal" fill="#222" >350</text>
<text x="525.1" y="466.8" font-size="6.4" text-anchor="middle" font-weight="normal" font-style="normal" fill="#222" >400</text>
<path d="M251.5 335.3H532.6" stroke="#999" stroke-width="0.6" stroke-dasharray="2.6 0.9"/>
<path d="M251.5 426H532.6" stroke="#d6d6d6" stroke-width="1.1" stroke-dasharray="1.8 1.7"/>
<path d="M251.5 380.4H533.2" stroke="#bbb" stroke-width="0.9"/>
<circle cx="298.8" cy="347.3" r="2.05" fill="#e09b6f" fill-opacity="0.68" stroke="#d27e52" stroke-opacity="0.55" stroke-width="0.5"/>
<circle cx="312" cy="353.4" r="2.05" fill="#e09b6f" fill-opacity="0.68" stroke="#d27e52" stroke-opacity="0.55" stroke-width="0.5"/>
<circle cx="329.8" cy="357.7" r="2.05" fill="#e09b6f" fill-opacity="0.68" stroke="#d27e52" stroke-opacity="0.55" stroke-width="0.5"/>
<circle cx="339.1" cy="351.1" r="2.05" fill="#e09b6f" fill-opacity="0.68" stroke="#d27e52" stroke-opacity="0.55" stroke-width="0.5"/>
<circle cx="341.5" cy="353.4" r="2.05" fill="#e09b6f" fill-opacity="0.68" stroke="#d27e52" stroke-opacity="0.55" stroke-width="0.5"/>
<circle cx="351.3" cy="356.9" r="2.05" fill="#e09b6f" fill-opacity="0.68" stroke="#d27e52" stroke-opacity="0.55" stroke-width="0.5"/>
<circle cx="355.6" cy="356.1" r="2.05" fill="#e09b6f" fill-opacity="0.68" stroke="#d27e52" stroke-opacity="0.55" stroke-width="0.5"/>
<circle cx="354" cy="348.2" r="2.05" fill="#e09b6f" fill-opacity="0.68" stroke="#d27e52" stroke-opacity="0.55" stroke-width="0.5"/>
<circle cx="357.8" cy="341.7" r="2.05" fill="#e09b6f" fill-opacity="0.68" stroke="#d27e52" stroke-opacity="0.55" stroke-width="0.5"/>
<circle cx="367" cy="359.3" r="2.05" fill="#e09b6f" fill-opacity="0.68" stroke="#d27e52" stroke-opacity="0.55" stroke-width="0.5"/>
<circle cx="374.3" cy="347.8" r="2.05" fill="#e09b6f" fill-opacity="0.68" stroke="#d27e52" stroke-opacity="0.55" stroke-width="0.5"/>
<circle cx="382.4" cy="357.4" r="2.05" fill="#e09b6f" fill-opacity="0.68" stroke="#d27e52" stroke-opacity="0.55" stroke-width="0.5"/>
<circle cx="395.4" cy="350.2" r="2.05" fill="#e09b6f" fill-opacity="0.68" stroke="#d27e52" stroke-opacity="0.55" stroke-width="0.5"/>
<circle cx="415" cy="336" r="2.05" fill="#e09b6f" fill-opacity="0.68" stroke="#d27e52" stroke-opacity="0.55" stroke-width="0.5"/>
<circle cx="359.6" cy="361" r="2.05" fill="#e09b6f" fill-opacity="0.68" stroke="#d27e52" stroke-opacity="0.55" stroke-width="0.5"/>
<circle cx="362.2" cy="363.5" r="2.05" fill="#e09b6f" fill-opacity="0.68" stroke="#d27e52" stroke-opacity="0.55" stroke-width="0.5"/>
<circle cx="364.5" cy="367.9" r="2.05" fill="#e09b6f" fill-opacity="0.68" stroke="#d27e52" stroke-opacity="0.55" stroke-width="0.5"/>
<circle cx="422" cy="346.5" r="2.05" fill="#e09b6f" fill-opacity="0.68" stroke="#d27e52" stroke-opacity="0.55" stroke-width="0.5"/>
<circle cx="423" cy="360.3" r="2.05" fill="#e09b6f" fill-opacity="0.68" stroke="#d27e52" stroke-opacity="0.55" stroke-width="0.5"/>
<circle cx="439.5" cy="355.8" r="2.05" fill="#e09b6f" fill-opacity="0.68" stroke="#d27e52" stroke-opacity="0.55" stroke-width="0.5"/>
<circle cx="448.6" cy="346.9" r="2.05" fill="#e09b6f" fill-opacity="0.68" stroke="#d27e52" stroke-opacity="0.55" stroke-width="0.5"/>
<circle cx="461.8" cy="323.2" r="2.05" fill="#e09b6f" fill-opacity="0.68" stroke="#d27e52" stroke-opacity="0.55" stroke-width="0.5"/>
<circle cx="502" cy="321.9" r="2.05" fill="#e09b6f" fill-opacity="0.68" stroke="#d27e52" stroke-opacity="0.55" stroke-width="0.5"/>
<circle cx="480.3" cy="335.6" r="2.05" fill="#e09b6f" fill-opacity="0.68" stroke="#d27e52" stroke-opacity="0.55" stroke-width="0.5"/>
<circle cx="507.4" cy="359.8" r="2.05" fill="#e09b6f" fill-opacity="0.68" stroke="#d27e52" stroke-opacity="0.55" stroke-width="0.5"/>
<circle cx="439.2" cy="366.5" r="2.05" fill="#e09b6f" fill-opacity="0.68" stroke="#d27e52" stroke-opacity="0.55" stroke-width="0.5"/>
<circle cx="444.1" cy="366.5" r="2.05" fill="#e09b6f" fill-opacity="0.68" stroke="#d27e52" stroke-opacity="0.55" stroke-width="0.5"/>
<circle cx="307.8" cy="367.2" r="2.05" fill="#e09b6f" fill-opacity="0.68" stroke="#d27e52" stroke-opacity="0.55" stroke-width="0.5"/>
<circle cx="306.6" cy="377.3" r="2.05" fill="#e09b6f" fill-opacity="0.68" stroke="#d27e52" stroke-opacity="0.55" stroke-width="0.5"/>
<circle cx="309.6" cy="379.2" r="2.05" fill="#e09b6f" fill-opacity="0.68" stroke="#d27e52" stroke-opacity="0.55" stroke-width="0.5"/>
<circle cx="303.5" cy="382" r="2.05" fill="#e09b6f" fill-opacity="0.68" stroke="#d27e52" stroke-opacity="0.55" stroke-width="0.5"/>
<circle cx="297.8" cy="386.7" r="2.05" fill="#e09b6f" fill-opacity="0.68" stroke="#d27e52" stroke-opacity="0.55" stroke-width="0.5"/>
<circle cx="300.6" cy="385.9" r="2.05" fill="#e09b6f" fill-opacity="0.68" stroke="#d27e52" stroke-opacity="0.55" stroke-width="0.5"/>
<circle cx="309.1" cy="389.7" r="2.05" fill="#e09b6f" fill-opacity="0.68" stroke="#d27e52" stroke-opacity="0.55" stroke-width="0.5"/>
<circle cx="312.5" cy="390.4" r="2.05" fill="#e09b6f" fill-opacity="0.68" stroke="#d27e52" stroke-opacity="0.55" stroke-width="0.5"/>
<circle cx="323.2" cy="385.9" r="2.05" fill="#e09b6f" fill-opacity="0.68" stroke="#d27e52" stroke-opacity="0.55" stroke-width="0.5"/>
<circle cx="332" cy="388.8" r="2.05" fill="#e09b6f" fill-opacity="0.68" stroke="#d27e52" stroke-opacity="0.55" stroke-width="0.5"/>
<circle cx="338.2" cy="374.1" r="2.05" fill="#e09b6f" fill-opacity="0.68" stroke="#d27e52" stroke-opacity="0.55" stroke-width="0.5"/>
<circle cx="338.6" cy="384.1" r="2.05" fill="#e09b6f" fill-opacity="0.68" stroke="#d27e52" stroke-opacity="0.55" stroke-width="0.5"/>
<circle cx="342" cy="394.2" r="2.05" fill="#e09b6f" fill-opacity="0.68" stroke="#d27e52" stroke-opacity="0.55" stroke-width="0.5"/>
<circle cx="351.3" cy="379.4" r="2.05" fill="#e09b6f" fill-opacity="0.68" stroke="#d27e52" stroke-opacity="0.55" stroke-width="0.5"/>
<circle cx="357.9" cy="383.1" r="2.05" fill="#e09b6f" fill-opacity="0.68" stroke="#d27e52" stroke-opacity="0.55" stroke-width="0.5"/>
<circle cx="359.4" cy="379.4" r="2.05" fill="#e09b6f" fill-opacity="0.68" stroke="#d27e52" stroke-opacity="0.55" stroke-width="0.5"/>
<circle cx="359.8" cy="374.1" r="2.05" fill="#e09b6f" fill-opacity="0.68" stroke="#d27e52" stroke-opacity="0.55" stroke-width="0.5"/>
<circle cx="375.4" cy="370.4" r="2.05" fill="#e09b6f" fill-opacity="0.68" stroke="#d27e52" stroke-opacity="0.55" stroke-width="0.5"/>
<circle cx="371.1" cy="382" r="2.05" fill="#e09b6f" fill-opacity="0.68" stroke="#d27e52" stroke-opacity="0.55" stroke-width="0.5"/>
<circle cx="382.3" cy="382" r="2.05" fill="#e09b6f" fill-opacity="0.68" stroke="#d27e52" stroke-opacity="0.55" stroke-width="0.5"/>
<circle cx="392.7" cy="371.3" r="2.05" fill="#e09b6f" fill-opacity="0.68" stroke="#d27e52" stroke-opacity="0.55" stroke-width="0.5"/>
<circle cx="397.9" cy="367.5" r="2.05" fill="#e09b6f" fill-opacity="0.68" stroke="#d27e52" stroke-opacity="0.55" stroke-width="0.5"/>
<circle cx="396.4" cy="373.5" r="2.05" fill="#e09b6f" fill-opacity="0.68" stroke="#d27e52" stroke-opacity="0.55" stroke-width="0.5"/>
<circle cx="391.7" cy="376" r="2.05" fill="#e09b6f" fill-opacity="0.68" stroke="#d27e52" stroke-opacity="0.55" stroke-width="0.5"/>
<circle cx="398.3" cy="378.4" r="2.05" fill="#e09b6f" fill-opacity="0.68" stroke="#d27e52" stroke-opacity="0.55" stroke-width="0.5"/>
<circle cx="392.7" cy="387.3" r="2.05" fill="#e09b6f" fill-opacity="0.68" stroke="#d27e52" stroke-opacity="0.55" stroke-width="0.5"/>
<circle cx="395.5" cy="387.3" r="2.05" fill="#e09b6f" fill-opacity="0.68" stroke="#d27e52" stroke-opacity="0.55" stroke-width="0.5"/>
<circle cx="381.6" cy="395.1" r="2.05" fill="#e09b6f" fill-opacity="0.68" stroke="#d27e52" stroke-opacity="0.55" stroke-width="0.5"/>
<circle cx="394.9" cy="399.1" r="2.05" fill="#e09b6f" fill-opacity="0.68" stroke="#d27e52" stroke-opacity="0.55" stroke-width="0.5"/>
<circle cx="401.7" cy="402.8" r="2.05" fill="#e09b6f" fill-opacity="0.68" stroke="#d27e52" stroke-opacity="0.55" stroke-width="0.5"/>
<circle cx="409.2" cy="400.6" r="2.05" fill="#e09b6f" fill-opacity="0.68" stroke="#d27e52" stroke-opacity="0.55" stroke-width="0.5"/>
<circle cx="411.4" cy="370.4" r="2.05" fill="#e09b6f" fill-opacity="0.68" stroke="#d27e52" stroke-opacity="0.55" stroke-width="0.5"/>
<circle cx="412.9" cy="372.2" r="2.05" fill="#e09b6f" fill-opacity="0.68" stroke="#d27e52" stroke-opacity="0.55" stroke-width="0.5"/>
<circle cx="414.8" cy="384.8" r="2.05" fill="#e09b6f" fill-opacity="0.68" stroke="#d27e52" stroke-opacity="0.55" stroke-width="0.5"/>
<circle cx="334.1" cy="399.8" r="2.05" fill="#e09b6f" fill-opacity="0.68" stroke="#d27e52" stroke-opacity="0.55" stroke-width="0.5"/>
<circle cx="330.7" cy="405.7" r="2.05" fill="#e09b6f" fill-opacity="0.68" stroke="#d27e52" stroke-opacity="0.55" stroke-width="0.5"/>
<circle cx="306.5" cy="405" r="2.05" fill="#e09b6f" fill-opacity="0.68" stroke="#d27e52" stroke-opacity="0.55" stroke-width="0.5"/>
<circle cx="354.2" cy="401.3" r="2.05" fill="#e09b6f" fill-opacity="0.68" stroke="#d27e52" stroke-opacity="0.55" stroke-width="0.5"/>
<circle cx="364.5" cy="399.8" r="2.05" fill="#e09b6f" fill-opacity="0.68" stroke="#d27e52" stroke-opacity="0.55" stroke-width="0.5"/>
<circle cx="372" cy="406.4" r="2.05" fill="#e09b6f" fill-opacity="0.68" stroke="#d27e52" stroke-opacity="0.55" stroke-width="0.5"/>
<circle cx="357" cy="416.4" r="2.05" fill="#e09b6f" fill-opacity="0.68" stroke="#d27e52" stroke-opacity="0.55" stroke-width="0.5"/>
<circle cx="386.1" cy="420.8" r="2.05" fill="#e09b6f" fill-opacity="0.68" stroke="#d27e52" stroke-opacity="0.55" stroke-width="0.5"/>
<circle cx="295" cy="413.7" r="2.05" fill="#e09b6f" fill-opacity="0.68" stroke="#d27e52" stroke-opacity="0.55" stroke-width="0.5"/>
<circle cx="280.8" cy="377.2" r="2.05" fill="#e09b6f" fill-opacity="0.68" stroke="#d27e52" stroke-opacity="0.55" stroke-width="0.5"/>
<circle cx="263.9" cy="396.3" r="2.05" fill="#e09b6f" fill-opacity="0.68" stroke="#d27e52" stroke-opacity="0.55" stroke-width="0.5"/>
<circle cx="265.8" cy="402" r="2.05" fill="#e09b6f" fill-opacity="0.68" stroke="#d27e52" stroke-opacity="0.55" stroke-width="0.5"/>
<circle cx="286.1" cy="394.4" r="2.05" fill="#e09b6f" fill-opacity="0.68" stroke="#d27e52" stroke-opacity="0.55" stroke-width="0.5"/>
<circle cx="419.4" cy="373.6" r="2.05" fill="#e09b6f" fill-opacity="0.68" stroke="#d27e52" stroke-opacity="0.55" stroke-width="0.5"/>
<circle cx="424.1" cy="372.6" r="2.05" fill="#e09b6f" fill-opacity="0.68" stroke="#d27e52" stroke-opacity="0.55" stroke-width="0.5"/>
<circle cx="428" cy="374.6" r="2.05" fill="#e09b6f" fill-opacity="0.68" stroke="#d27e52" stroke-opacity="0.55" stroke-width="0.5"/>
<circle cx="424.5" cy="378.3" r="2.05" fill="#e09b6f" fill-opacity="0.68" stroke="#d27e52" stroke-opacity="0.55" stroke-width="0.5"/>
<circle cx="427.2" cy="381.8" r="2.05" fill="#e09b6f" fill-opacity="0.68" stroke="#d27e52" stroke-opacity="0.55" stroke-width="0.5"/>
<circle cx="426.6" cy="383.8" r="2.05" fill="#e09b6f" fill-opacity="0.68" stroke="#d27e52" stroke-opacity="0.55" stroke-width="0.5"/>
<circle cx="422.1" cy="384.6" r="2.05" fill="#e09b6f" fill-opacity="0.68" stroke="#d27e52" stroke-opacity="0.55" stroke-width="0.5"/>
<circle cx="415.3" cy="384.9" r="2.05" fill="#e09b6f" fill-opacity="0.68" stroke="#d27e52" stroke-opacity="0.55" stroke-width="0.5"/>
<circle cx="417.8" cy="386.3" r="2.05" fill="#e09b6f" fill-opacity="0.68" stroke="#d27e52" stroke-opacity="0.55" stroke-width="0.5"/>
<circle cx="423.9" cy="393.6" r="2.05" fill="#e09b6f" fill-opacity="0.68" stroke="#d27e52" stroke-opacity="0.55" stroke-width="0.5"/>
<circle cx="424.9" cy="403.2" r="2.05" fill="#e09b6f" fill-opacity="0.68" stroke="#d27e52" stroke-opacity="0.55" stroke-width="0.5"/>
<circle cx="430" cy="402.6" r="2.05" fill="#e09b6f" fill-opacity="0.68" stroke="#d27e52" stroke-opacity="0.55" stroke-width="0.5"/>
<circle cx="442.9" cy="410.4" r="2.05" fill="#e09b6f" fill-opacity="0.68" stroke="#d27e52" stroke-opacity="0.55" stroke-width="0.5"/>
<circle cx="520.6" cy="397.7" r="2.05" fill="#e09b6f" fill-opacity="0.68" stroke="#d27e52" stroke-opacity="0.55" stroke-width="0.5"/>
<path d="M295.5 350.4L297.4 354.2L293.6 354.2Z" fill="#92acd9" stroke="#7492c9" stroke-width="0.5"/>
<path d="M317 372.5L318.9 376.3L315.1 376.3Z" fill="#92acd9" stroke="#7492c9" stroke-width="0.5"/>
<path d="M344.2 367.4L346.1 371.2L342.3 371.2Z" fill="#92acd9" stroke="#7492c9" stroke-width="0.5"/>
<path d="M296.5 378.9L298.4 382.7L294.6 382.7Z" fill="#92acd9" stroke="#7492c9" stroke-width="0.5"/>
<path d="M351 376.3L352.9 380.1L349.1 380.1Z" fill="#92acd9" stroke="#7492c9" stroke-width="0.5"/>
<path d="M359 386.2L360.9 390L357.1 390Z" fill="#92acd9" stroke="#7492c9" stroke-width="0.5"/>
<path d="M374.8 392.8L376.7 396.6L372.9 396.6Z" fill="#92acd9" stroke="#7492c9" stroke-width="0.5"/>
<path d="M378.6 405.4L380.5 409.2L376.7 409.2Z" fill="#92acd9" stroke="#7492c9" stroke-width="0.5"/>
<path d="M387.4 373.1L389.3 376.9L385.5 376.9Z" fill="#92acd9" stroke="#7492c9" stroke-width="0.5"/>
<path d="M403 390.7L404.9 394.5L401.1 394.5Z" fill="#92acd9" stroke="#7492c9" stroke-width="0.5"/>
<path d="M412.2 364.4L414.1 368.2L410.3 368.2Z" fill="#92acd9" stroke="#7492c9" stroke-width="0.5"/>
<path d="M335 410.1L336.9 413.9L333.1 413.9Z" fill="#92acd9" stroke="#7492c9" stroke-width="0.5"/>
<path d="M393.2 425.1L395.1 428.9L391.3 428.9Z" fill="#92acd9" stroke="#7492c9" stroke-width="0.5"/>
<path d="M409.6 423L411.5 426.8L407.7 426.8Z" fill="#92acd9" stroke="#7492c9" stroke-width="0.5"/>
<path d="M411.7 429.4L413.6 433.2L409.8 433.2Z" fill="#92acd9" stroke="#7492c9" stroke-width="0.5"/>
<path d="M437 398.2L438.9 402L435.1 402Z" fill="#92acd9" stroke="#7492c9" stroke-width="0.5"/>
<path d="M449 416.4L450.9 420.2L447.1 420.2Z" fill="#92acd9" stroke="#7492c9" stroke-width="0.5"/>
<path d="M481.3 411.9L483.2 415.7L479.4 415.7Z" fill="#92acd9" stroke="#7492c9" stroke-width="0.5"/>
<path d="M497.3 385.9L499.2 389.7L495.4 389.7Z" fill="#92acd9" stroke="#7492c9" stroke-width="0.5"/>
<path d="M422.1 425.3L424 429.1L420.2 429.1Z" fill="#92acd9" stroke="#7492c9" stroke-width="0.5"/>
<text x="407.6" y="475.9" font-size="8.7" text-anchor="middle" font-weight="normal" font-style="normal" fill="#222" textLength="51.4" lengthAdjust="spacingAndGlyphs">Mean (L/min)</text>
<text transform="translate(228 374.8) rotate(-90)" font-size="8.6" text-anchor="middle" fill="#222" textLength="67.8" lengthAdjust="spacingAndGlyphs">Difference (L/min)</text>
<rect x="260.6" y="301.5" width="72.9" height="25.9" fill="#fff" stroke="#555" stroke-width="0.8"/>
<path d="M269.4 306.7L272.4 312.7L266.4 312.7Z" fill="#93acd9"/>
<circle cx="269.4" cy="320.3" r="2.8" fill="#eab89c"/>
<text x="275.6" y="312.6" font-size="9" text-anchor="start" font-weight="normal" font-style="normal" fill="#222" >Test set</text>
<text x="275.6" y="323.3" font-size="9" text-anchor="start" font-weight="normal" font-style="normal" fill="#222" textLength="52.5" lengthAdjust="spacingAndGlyphs">Validation set</text>
<text x="531.6" y="333.2" font-size="8.8" text-anchor="end" font-weight="normal" font-style="normal" fill="#222" >+1.96 SD</text>
<text x="532" y="344" font-size="8.8" text-anchor="end" font-weight="normal" font-style="normal" fill="#222" >+93.0</text>
<text x="531.8" y="378.3" font-size="8.8" text-anchor="end" font-weight="normal" font-style="normal" fill="#222" >Mean</text>
<text x="531.8" y="390" font-size="8.8" text-anchor="end" font-weight="normal" font-style="normal" fill="#222" >-4.0</text>
<text x="531.4" y="423.1" font-size="8.8" text-anchor="end" font-weight="normal" font-style="normal" fill="#222" >-1.96 SD</text>
<text x="531.6" y="435.6" font-size="8.8" text-anchor="end" font-weight="normal" font-style="normal" fill="#222" >-100.9</text>
<g stroke="#444" stroke-width="1" fill="none">
<path d="M579.5 278.6V454.5" stroke="#333"/><path d="M579 455H682.7" stroke="#a5a5a5" stroke-width="1.6"/>
<path d="M576.8 448.3H579.7"/>
<path d="M576.8 423.94H579.7"/>
<path d="M576.8 399.57H579.7"/>
<path d="M576.8 375.21H579.7"/>
<path d="M576.8 350.85H579.7"/>
<path d="M576.8 326.49H579.7"/>
<path d="M576.8 302.12H579.7"/>
<path d="M596.5 455V458"/>
<path d="M631.3 455V458"/>
<path d="M665.6 455V458"/>
</g>
<text x="573.3" y="450.7" font-size="6.2" text-anchor="end" font-weight="normal" font-style="normal" fill="#222" >0</text>
<text x="573.3" y="426.34" font-size="6.2" text-anchor="end" font-weight="normal" font-style="normal" fill="#222" >25</text>
<text x="573.3" y="401.97" font-size="6.2" text-anchor="end" font-weight="normal" font-style="normal" fill="#222" >50</text>
<text x="573.3" y="377.61" font-size="6.2" text-anchor="end" font-weight="normal" font-style="normal" fill="#222" >75</text>
<text x="573.3" y="353.25" font-size="6.2" text-anchor="end" font-weight="normal" font-style="normal" fill="#222" >100</text>
<text x="573.3" y="328.89" font-size="6.2" text-anchor="end" font-weight="normal" font-style="normal" fill="#222" >125</text>
<text x="573.3" y="304.52" font-size="6.2" text-anchor="end" font-weight="normal" font-style="normal" fill="#222" >150</text>
<text transform="translate(559.1 365.4) rotate(-90)" font-size="8.6" text-anchor="middle" fill="#222">RMSE (L/min)</text>
<path d="M596.5 339.16V372.68 M596.5 429.49V445.38" stroke="#222" stroke-width="1.4"/>
<path d="M592.3 339.16H600.7 M592.3 445.38H600.7" stroke="#222" stroke-width="1.4"/>
<rect x="587.45" y="372.68" width="18.1" height="56.81" fill="url(#stripe)" stroke="#222" stroke-width="1.4"/>
<path d="M587.45 410H605.55" stroke="#222" stroke-width="1.4"/>
<path d="M631.3 326.49V378.04 M631.3 420.82V447.23" stroke="#222" stroke-width="1.4"/>
<path d="M627.1 326.49H635.5 M627.1 447.23H635.5" stroke="#222" stroke-width="1.4"/>
<rect x="622.25" y="378.04" width="18.1" height="42.78" fill="#5dc95f" stroke="#222" stroke-width="1.4"/>
<path d="M622.25 405.52H640.35" stroke="#222" stroke-width="1.4"/>
<path d="M665.6 363.52V382.33 M665.6 423.06V441.09" stroke="#222" stroke-width="1.4"/>
<path d="M661.4 363.52H669.8 M661.4 441.09H669.8" stroke="#222" stroke-width="1.4"/>
<rect x="656.55" y="382.33" width="18.1" height="40.73" fill="#5bb6e3" stroke="#222" stroke-width="1.4"/>
<path d="M656.55 405.52H674.65" stroke="#222" stroke-width="1.4"/>
<circle cx="594.2" cy="347.3" r="2.2" fill="#7f9fd3" fill-opacity="0.6" stroke="#5e7396" stroke-opacity="0.7" stroke-width="0.6"/>
<circle cx="599.2" cy="347.8" r="2.2" fill="#7f9fd3" fill-opacity="0.6" stroke="#5e7396" stroke-opacity="0.7" stroke-width="0.6"/>
<circle cx="594.4" cy="353.1" r="2.2" fill="#7f9fd3" fill-opacity="0.6" stroke="#5e7396" stroke-opacity="0.7" stroke-width="0.6"/>
<circle cx="600.3" cy="339.1" r="2.2" fill="#7f9fd3" fill-opacity="0.6" stroke="#5e7396" stroke-opacity="0.7" stroke-width="0.6"/>
<circle cx="600.1" cy="348.5" r="2.2" fill="#7f9fd3" fill-opacity="0.6" stroke="#5e7396" stroke-opacity="0.7" stroke-width="0.6"/>
<circle cx="597.6" cy="366.7" r="2.2" fill="#7f9fd3" fill-opacity="0.6" stroke="#5e7396" stroke-opacity="0.7" stroke-width="0.6"/>
<circle cx="595.6" cy="375.4" r="2.2" fill="#7f9fd3" fill-opacity="0.6" stroke="#5e7396" stroke-opacity="0.7" stroke-width="0.6"/>
<circle cx="599" cy="379.2" r="2.2" fill="#7f9fd3" fill-opacity="0.6" stroke="#5e7396" stroke-opacity="0.7" stroke-width="0.6"/>
<circle cx="593.2" cy="392.3" r="2.2" fill="#7f9fd3" fill-opacity="0.6" stroke="#5e7396" stroke-opacity="0.7" stroke-width="0.6"/>
<circle cx="599" cy="389.4" r="2.2" fill="#7f9fd3" fill-opacity="0.6" stroke="#5e7396" stroke-opacity="0.7" stroke-width="0.6"/>
<circle cx="593.2" cy="403.3" r="2.2" fill="#7f9fd3" fill-opacity="0.6" stroke="#5e7396" stroke-opacity="0.7" stroke-width="0.6"/>
<circle cx="598.5" cy="416.1" r="2.2" fill="#7f9fd3" fill-opacity="0.6" stroke="#5e7396" stroke-opacity="0.7" stroke-width="0.6"/>
<circle cx="593.2" cy="420.7" r="2.2" fill="#7f9fd3" fill-opacity="0.6" stroke="#5e7396" stroke-opacity="0.7" stroke-width="0.6"/>
<circle cx="594.1" cy="421.9" r="2.2" fill="#7f9fd3" fill-opacity="0.6" stroke="#5e7396" stroke-opacity="0.7" stroke-width="0.6"/>
<circle cx="596.7" cy="427.1" r="2.2" fill="#7f9fd3" fill-opacity="0.6" stroke="#5e7396" stroke-opacity="0.7" stroke-width="0.6"/>
<circle cx="595.6" cy="429.5" r="2.2" fill="#7f9fd3" fill-opacity="0.6" stroke="#5e7396" stroke-opacity="0.7" stroke-width="0.6"/>
<circle cx="594.1" cy="440.2" r="2.2" fill="#7f9fd3" fill-opacity="0.6" stroke="#5e7396" stroke-opacity="0.7" stroke-width="0.6"/>
<circle cx="598.5" cy="438.7" r="2.2" fill="#7f9fd3" fill-opacity="0.6" stroke="#5e7396" stroke-opacity="0.7" stroke-width="0.6"/>
<circle cx="594.1" cy="444.6" r="2.2" fill="#7f9fd3" fill-opacity="0.6" stroke="#5e7396" stroke-opacity="0.7" stroke-width="0.6"/>
<circle cx="597.6" cy="443.4" r="2.2" fill="#7f9fd3" fill-opacity="0.6" stroke="#5e7396" stroke-opacity="0.7" stroke-width="0.6"/>
<circle cx="634.6" cy="286.1" r="2.2" fill="#7f9fd3" fill-opacity="0.6" stroke="#5e7396" stroke-opacity="0.7" stroke-width="0.6"/>
<circle cx="628.3" cy="326.6" r="2.2" fill="#7f9fd3" fill-opacity="0.6" stroke="#5e7396" stroke-opacity="0.7" stroke-width="0.6"/>
<circle cx="633.2" cy="362.3" r="2.2" fill="#7f9fd3" fill-opacity="0.6" stroke="#5e7396" stroke-opacity="0.7" stroke-width="0.6"/>
<circle cx="632.8" cy="369.6" r="2.2" fill="#7f9fd3" fill-opacity="0.6" stroke="#5e7396" stroke-opacity="0.7" stroke-width="0.6"/>
<circle cx="634" cy="373.1" r="2.2" fill="#7f9fd3" fill-opacity="0.6" stroke="#5e7396" stroke-opacity="0.7" stroke-width="0.6"/>
<circle cx="630.1" cy="374.7" r="2.2" fill="#7f9fd3" fill-opacity="0.6" stroke="#5e7396" stroke-opacity="0.7" stroke-width="0.6"/>
<circle cx="630.2" cy="380.2" r="2.2" fill="#7f9fd3" fill-opacity="0.6" stroke="#5e7396" stroke-opacity="0.7" stroke-width="0.6"/>
<circle cx="633.2" cy="380.6" r="2.2" fill="#7f9fd3" fill-opacity="0.6" stroke="#5e7396" stroke-opacity="0.7" stroke-width="0.6"/>
<circle cx="631.3" cy="385.3" r="2.2" fill="#7f9fd3" fill-opacity="0.6" stroke="#5e7396" stroke-opacity="0.7" stroke-width="0.6"/>
<circle cx="632.4" cy="394.3" r="2.2" fill="#7f9fd3" fill-opacity="0.6" stroke="#5e7396" stroke-opacity="0.7" stroke-width="0.6"/>
<circle cx="634.5" cy="394.6" r="2.2" fill="#7f9fd3" fill-opacity="0.6" stroke="#5e7396" stroke-opacity="0.7" stroke-width="0.6"/>
<circle cx="627.5" cy="413.2" r="2.2" fill="#7f9fd3" fill-opacity="0.6" stroke="#5e7396" stroke-opacity="0.7" stroke-width="0.6"/>
<circle cx="632.4" cy="413.2" r="2.2" fill="#7f9fd3" fill-opacity="0.6" stroke="#5e7396" stroke-opacity="0.7" stroke-width="0.6"/>
<circle cx="633.9" cy="418.4" r="2.2" fill="#7f9fd3" fill-opacity="0.6" stroke="#5e7396" stroke-opacity="0.7" stroke-width="0.6"/>
<circle cx="628.1" cy="424.2" r="2.2" fill="#7f9fd3" fill-opacity="0.6" stroke="#5e7396" stroke-opacity="0.7" stroke-width="0.6"/>
<circle cx="629" cy="422.2" r="2.2" fill="#7f9fd3" fill-opacity="0.6" stroke="#5e7396" stroke-opacity="0.7" stroke-width="0.6"/>
<circle cx="631" cy="441.7" r="2.2" fill="#7f9fd3" fill-opacity="0.6" stroke="#5e7396" stroke-opacity="0.7" stroke-width="0.6"/>
<circle cx="633.3" cy="446.9" r="2.2" fill="#7f9fd3" fill-opacity="0.6" stroke="#5e7396" stroke-opacity="0.7" stroke-width="0.6"/>
<circle cx="631.9" cy="445.1" r="2.2" fill="#7f9fd3" fill-opacity="0.6" stroke="#5e7396" stroke-opacity="0.7" stroke-width="0.6"/>
<circle cx="664.9" cy="288.4" r="2.2" fill="#7f9fd3" fill-opacity="0.6" stroke="#5e7396" stroke-opacity="0.7" stroke-width="0.6"/>
<circle cx="663.8" cy="362.7" r="2.2" fill="#7f9fd3" fill-opacity="0.6" stroke="#5e7396" stroke-opacity="0.7" stroke-width="0.6"/>
<circle cx="667.3" cy="366.1" r="2.2" fill="#7f9fd3" fill-opacity="0.6" stroke="#5e7396" stroke-opacity="0.7" stroke-width="0.6"/>
<circle cx="663.5" cy="380.7" r="2.2" fill="#7f9fd3" fill-opacity="0.6" stroke="#5e7396" stroke-opacity="0.7" stroke-width="0.6"/>
<circle cx="665.8" cy="383" r="2.2" fill="#7f9fd3" fill-opacity="0.6" stroke="#5e7396" stroke-opacity="0.7" stroke-width="0.6"/>
<circle cx="668.7" cy="381.5" r="2.2" fill="#7f9fd3" fill-opacity="0.6" stroke="#5e7396" stroke-opacity="0.7" stroke-width="0.6"/>
<circle cx="662.9" cy="399.5" r="2.2" fill="#7f9fd3" fill-opacity="0.6" stroke="#5e7396" stroke-opacity="0.7" stroke-width="0.6"/>
<circle cx="667.3" cy="401" r="2.2" fill="#7f9fd3" fill-opacity="0.6" stroke="#5e7396" stroke-opacity="0.7" stroke-width="0.6"/>
<circle cx="666.4" cy="409.1" r="2.2" fill="#7f9fd3" fill-opacity="0.6" stroke="#5e7396" stroke-opacity="0.7" stroke-width="0.6"/>
<circle cx="668.7" cy="413.2" r="2.2" fill="#7f9fd3" fill-opacity="0.6" stroke="#5e7396" stroke-opacity="0.7" stroke-width="0.6"/>
<circle cx="664.4" cy="416.1" r="2.2" fill="#7f9fd3" fill-opacity="0.6" stroke="#5e7396" stroke-opacity="0.7" stroke-width="0.6"/>
<circle cx="663.5" cy="422.8" r="2.2" fill="#7f9fd3" fill-opacity="0.6" stroke="#5e7396" stroke-opacity="0.7" stroke-width="0.6"/>
<circle cx="662.9" cy="426.6" r="2.2" fill="#7f9fd3" fill-opacity="0.6" stroke="#5e7396" stroke-opacity="0.7" stroke-width="0.6"/>
<circle cx="663.5" cy="429.5" r="2.2" fill="#7f9fd3" fill-opacity="0.6" stroke="#5e7396" stroke-opacity="0.7" stroke-width="0.6"/>
<circle cx="667.3" cy="440.8" r="2.2" fill="#7f9fd3" fill-opacity="0.6" stroke="#5e7396" stroke-opacity="0.7" stroke-width="0.6"/>
<text x="596.5" y="466.4" font-size="6.6" text-anchor="middle" font-weight="normal" font-style="normal" fill="#222" >Using</text>
<text x="596.5" y="473.4" font-size="6.6" text-anchor="middle" font-weight="normal" font-style="normal" fill="#222" >all</text>
<text x="631.3" y="466.4" font-size="6.6" text-anchor="middle" font-weight="normal" font-style="normal" fill="#222" >Using</text>
<text x="631.3" y="473.4" font-size="6.6" text-anchor="middle" font-weight="normal" font-style="normal" fill="#222" >intercostal</text>
<text x="665.6" y="466.4" font-size="6.6" text-anchor="middle" font-weight="normal" font-style="normal" fill="#222" >Using</text>
<text x="665.6" y="473.4" font-size="6.6" text-anchor="middle" font-weight="normal" font-style="normal" fill="#222" >subcostal</text>
</svg></body></html>
